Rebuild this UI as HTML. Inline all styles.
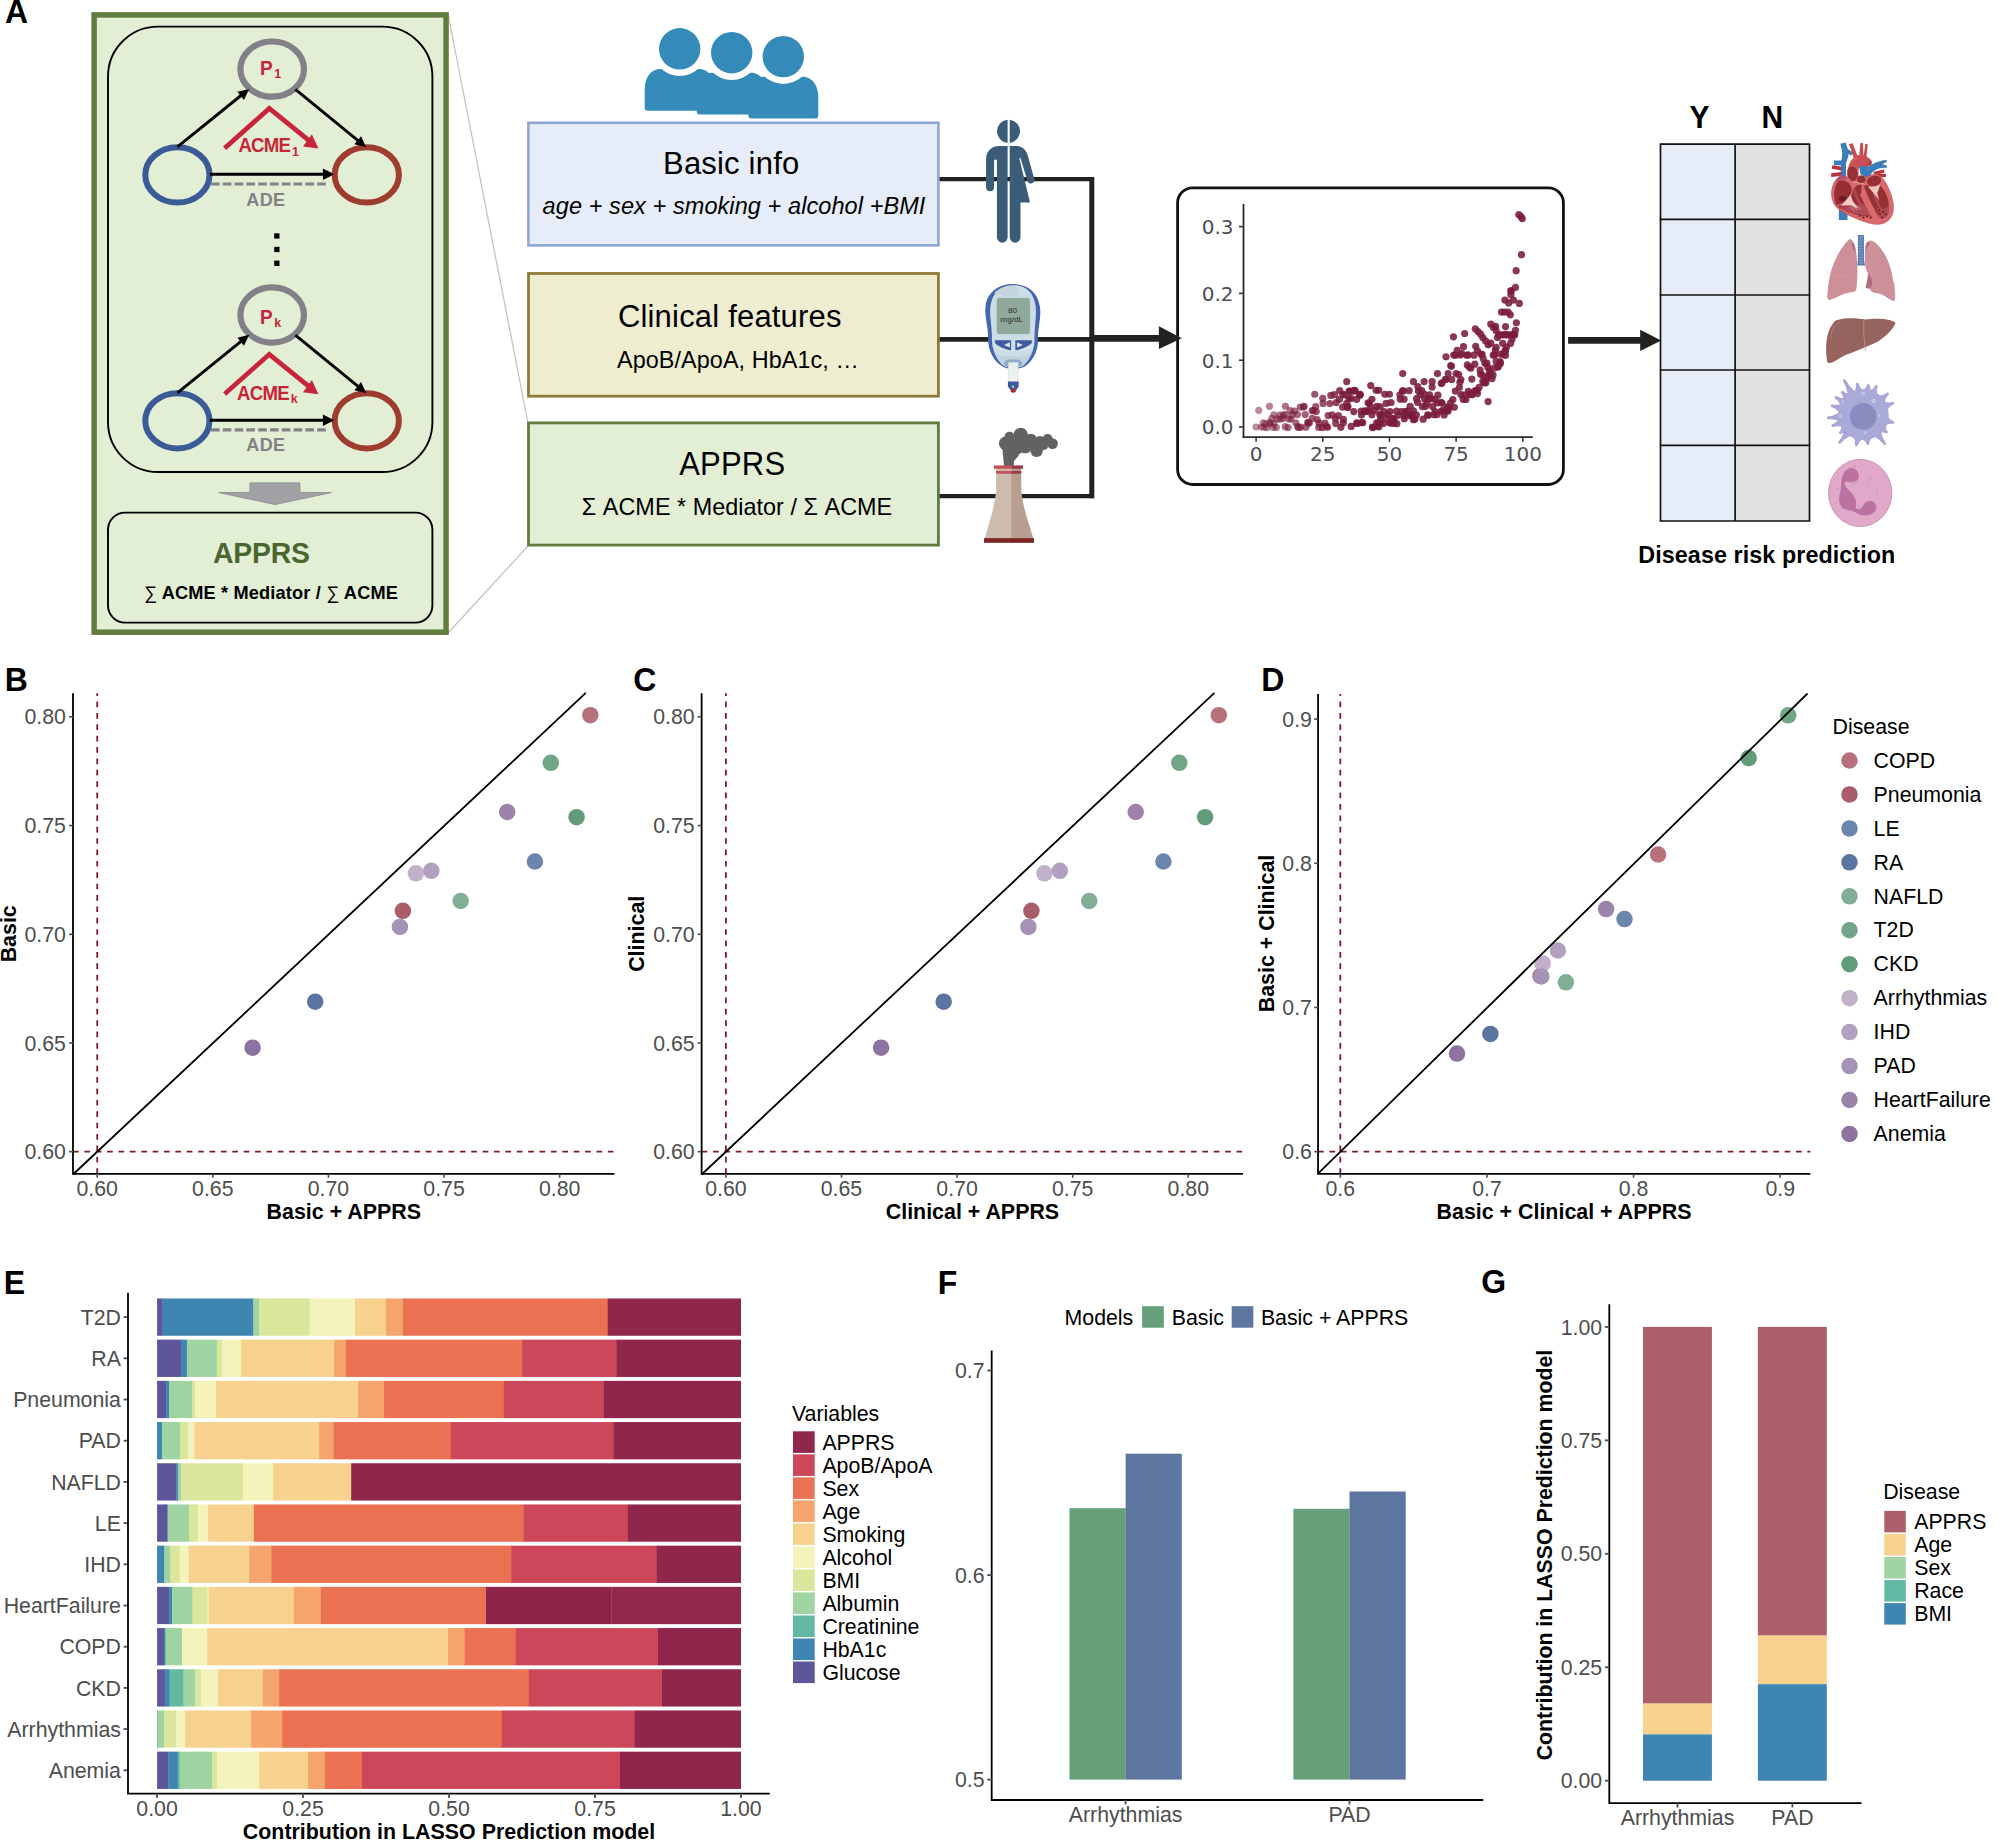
<!DOCTYPE html>
<html lang="en"><head><meta charset="utf-8"><title>APPRS disease risk prediction figure</title>
<style>
html,body{margin:0;padding:0;background:#fff}
svg{display:block;font-family:"Liberation Sans",Arial,sans-serif}
</style></head>
<body>
<svg width="1998" height="1841" viewBox="0 0 1998 1841">
<rect width="1998" height="1841" fill="#fff"/>
<line x1="448" y1="14" x2="528" y2="423" stroke="#c4c4c4" stroke-width="1.3" />
<line x1="448" y1="633" x2="528" y2="546" stroke="#c4c4c4" stroke-width="1.3" />
<rect x="94.1" y="14.9" width="351.95" height="617.3" fill="#e2efd5" stroke="#607c3e" stroke-width="5.5" />
<rect x="108" y="26.6" width="324.4" height="445.4" fill="none" stroke="#000" stroke-width="1.9" rx="50" />
<ellipse cx="272.2" cy="69.1" rx="31.8" ry="27.6" fill="none" stroke="#838088" stroke-width="6.2"/><ellipse cx="177.4" cy="174.9" rx="32.1" ry="27.6" fill="none" stroke="#3b5b96" stroke-width="6"/><ellipse cx="366.8" cy="174.9" rx="32.1" ry="27.6" fill="none" stroke="#9e3c30" stroke-width="6"/><line x1="177.4" y1="146.9" x2="241.03" y2="95.5" stroke="#000" stroke-width="2.9" /><polygon points="249.2,88.9 243.94,99.9 237.34,91.73" fill="#000"/><line x1="295.4" y1="89.3" x2="358.07" y2="140.55" stroke="#000" stroke-width="2.9" /><polygon points="366.2,147.2 354.36,144.3 361.01,136.17" fill="#000"/><line x1="209.8" y1="174.3" x2="323.4" y2="174.3" stroke="#000" stroke-width="2.9" /><polygon points="334.4,174.3 322.9,180.05 322.9,168.55" fill="#000"/><line x1="211" y1="184" x2="326" y2="184" stroke="#838088" stroke-width="3.2" stroke-dasharray="8.6 3.2"/><polyline points="224.6,148.2 269.3,108.4 308.5,140.2" fill="none" stroke="#c8243a" stroke-width="4.7" stroke-linejoin="miter"/><polygon points="318.4,148.4 303,146.4 311.9,134.2" fill="#c8243a"/><text font-size="19" x="0" y="0" transform="translate(260 74.8) scale(1 1.045)" font-weight="bold" fill="#c8243a">P</text><text font-size="12.5" x="0" y="0" transform="translate(274.2 78.2) scale(1 1.045)" font-weight="bold" fill="#c8243a">1</text><text font-size="18.6" x="0" y="0" transform="translate(238.4 152.3) scale(1 1.045)" font-weight="bold" fill="#c8243a" textLength="52.6" lengthAdjust="spacing">ACME</text><text font-size="12.5" x="0" y="0" transform="translate(292 155.7) scale(1 1.045)" font-weight="bold" fill="#c8243a">1</text><text font-size="18" x="0" y="0" transform="translate(246.2 205.5) scale(1 1.045)" font-weight="bold" fill="#838088" textLength="38.9" lengthAdjust="spacing">ADE</text>
<ellipse cx="272.2" cy="315" rx="31.8" ry="27.6" fill="none" stroke="#838088" stroke-width="6.2"/><ellipse cx="177.4" cy="420.8" rx="32.1" ry="27.6" fill="none" stroke="#3b5b96" stroke-width="6"/><ellipse cx="366.8" cy="420.8" rx="32.1" ry="27.6" fill="none" stroke="#9e3c30" stroke-width="6"/><line x1="177.4" y1="392.8" x2="241.03" y2="341.4" stroke="#000" stroke-width="2.9" /><polygon points="249.2,334.8 243.94,345.8 237.34,337.63" fill="#000"/><line x1="295.4" y1="335.2" x2="358.07" y2="386.45" stroke="#000" stroke-width="2.9" /><polygon points="366.2,393.1 354.36,390.2 361.01,382.07" fill="#000"/><line x1="209.8" y1="420.2" x2="323.4" y2="420.2" stroke="#000" stroke-width="2.9" /><polygon points="334.4,420.2 322.9,425.95 322.9,414.45" fill="#000"/><line x1="211" y1="429.9" x2="326" y2="429.9" stroke="#838088" stroke-width="3.2" stroke-dasharray="8.6 3.2"/><polyline points="224.6,394.1 269.3,354.3 308.5,386.1" fill="none" stroke="#c8243a" stroke-width="4.7" stroke-linejoin="miter"/><polygon points="318.4,394.3 303,392.3 311.9,380.1" fill="#c8243a"/><text font-size="19" x="0" y="0" transform="translate(260 323.5) scale(1 1.045)" font-weight="bold" fill="#c8243a">P</text><text font-size="12.5" x="274.2" y="326.9" font-weight="bold" fill="#c8243a">k</text><text font-size="18.6" x="0" y="0" transform="translate(237.1 400) scale(1 1.045)" font-weight="bold" fill="#c8243a" textLength="52.6" lengthAdjust="spacing">ACME</text><text font-size="12.5" x="290.7" y="403.4" font-weight="bold" fill="#c8243a">k</text><text font-size="18" x="0" y="0" transform="translate(246.2 451.4) scale(1 1.045)" font-weight="bold" fill="#838088" textLength="38.9" lengthAdjust="spacing">ADE</text>
<rect x="274.2" y="233.3" width="5.3" height="5.3" fill="#000" />
<rect x="274.2" y="246.8" width="5.3" height="5.3" fill="#000" />
<rect x="274.2" y="260.6" width="5.3" height="5.3" fill="#000" />
<polygon points="250,482.9 299.9,482.9 299.9,492.4 331.4,492.6 275,504.5 218.8,492.6 250,492.4" fill="#a2a2a6" stroke="#8c8c90" stroke-width="0.9"/>
<rect x="108" y="512.6" width="324.4" height="110" fill="none" stroke="#000" stroke-width="1.9" rx="17" />
<text font-size="28.4" x="0" y="0" transform="translate(213 563.4) scale(1 1.045)" font-weight="bold" fill="#49662f" textLength="97" lengthAdjust="spacing">APPRS</text>
<text font-size="18.2" x="144" y="599.1" font-weight="bold" textLength="253.9" lengthAdjust="spacing"><tspan font-weight="normal">∑</tspan> ACME * Mediator / <tspan font-weight="normal">∑</tspan> ACME</text>
<line x1="939" y1="179.1" x2="1094" y2="179.1" stroke="#242220" stroke-width="4.4" />
<line x1="939" y1="339.4" x2="1094" y2="339.4" stroke="#242220" stroke-width="4.6" />
<line x1="939" y1="496.1" x2="1094" y2="496.1" stroke="#242220" stroke-width="4.2" />
<line x1="1091.8" y1="176.9" x2="1091.8" y2="498.2" stroke="#242220" stroke-width="5" />
<path d="M644.7,107.7 L644.7,88.9 C644.7,77.9 650.7,69.9 658.7,68.9 L700.7,68.9 C708.7,69.9 714.7,77.9 714.7,88.9 L714.7,107.7 Q714.7,110.7 711.7,110.7 L647.7,110.7 Q644.7,110.7 644.7,107.7 Z" fill="#348ab9"/><circle cx="679.7" cy="48.8" r="27.3" fill="#fff" /><circle cx="679.7" cy="48.8" r="20.7" fill="#348ab9" /><path d="M696.7,111.6 L696.7,92.8 C696.7,81.8 702.7,73.8 710.7,72.8 L752.7,72.8 C760.7,73.8 766.7,81.8 766.7,92.8 L766.7,111.6 Q766.7,114.6 763.7,114.6 L699.7,114.6 Q696.7,114.6 696.7,111.6 Z" fill="#348ab9"/><circle cx="731.7" cy="52.7" r="27.3" fill="#fff" /><circle cx="731.7" cy="52.7" r="20.7" fill="#348ab9" /><path d="M748.3,115.5 L748.3,96.7 C748.3,85.7 754.3,77.7 762.3,76.7 L804.3,76.7 C812.3,77.7 818.3,85.7 818.3,96.7 L818.3,115.5 Q818.3,118.5 815.3,118.5 L751.3,118.5 Q748.3,118.5 748.3,115.5 Z" fill="#348ab9"/><circle cx="783.3" cy="56.6" r="27.3" fill="#fff" /><circle cx="783.3" cy="56.6" r="20.7" fill="#348ab9" />
<rect x="528.4" y="122.8" width="410" height="122.6" fill="#e6edf9" stroke="#8ea6cf" stroke-width="2.6" />
<rect x="528.5" y="273.5" width="409.9" height="122.7" fill="#efedd0" stroke="#8e7a38" stroke-width="2.8" />
<rect x="528.5" y="422.9" width="409.9" height="122.2" fill="#e2efd5" stroke="#5f7c3e" stroke-width="2.8" />
<text font-size="31" x="663" y="173.75" textLength="136.2" lengthAdjust="spacing">Basic info</text>
<text font-size="23.5" x="542.6" y="214" font-style="italic" textLength="382.8" lengthAdjust="spacing">age + sex + smoking + alcohol +BMI</text>
<text font-size="31" x="617.9" y="326.8" textLength="223.6" lengthAdjust="spacing">Clinical features</text>
<text font-size="23.4" x="617" y="368.3" textLength="241.8" lengthAdjust="spacing">ApoB/ApoA, HbA1c, …</text>
<text font-size="31" x="0" y="0" transform="translate(679.2 474.8) scale(1 1.045)" textLength="105.9" lengthAdjust="spacing">APPRS</text>
<text font-size="23.4" x="581.8" y="514.6" textLength="310.4" lengthAdjust="spacing">Σ ACME * Mediator / Σ ACME</text>
<g transform="translate(960,100) scale(0.086896)"><path d="M548,227.4 A133,133 0 0 0 548,492.6 Z M572,227.7 A133,133 0 0 1 572,492.3 Z" fill="#3a5c78"/><path d="M548,530 L440,530 C350,538 300,600 300,690 L300,1004 A46,46 0 0 0 392,1004 L392,700 A16.5,16.5 0 0 1 425,700 L425,1580 A61.5,61.5 0 0 0 548,1580 Z" fill="#3a5c78"/><path d="M572,530 L655,530 C720,535 760,575 780,640 L854,905 A41,41 0 0 1 776,932 L695,664 L683,672 L806,1180 L696,1180 L696,1580 A62,62 0 0 1 572,1580 Z" fill="#3a5c78"/></g>
<g transform="translate(960,270) scale(0.076046)"><path d="M700,185 C880,185 1020,280 1050,480 C1075,620 1020,760 1025,900 C1035,1050 960,1200 850,1270 C780,1310 620,1310 560,1270 C440,1200 365,1050 370,900 C375,760 320,620 335,480 C360,280 520,185 700,185 Z" fill="#4466ae"/><path d="M700,200 C860,200 970,290 995,480 C1010,620 975,760 980,900 C985,1040 920,1190 830,1260 C770,1295 630,1295 575,1260 C480,1190 415,1040 420,900 C425,760 385,620 400,480 C425,290 540,200 700,200 Z" fill="#cddde6"/><path d="M720,215 C800,260 790,330 700,345 C600,350 500,330 450,300 C520,230 620,205 720,215 Z" fill="#c3d4dd"/><path d="M470,1100 C560,1150 840,1150 930,1100 C900,1180 860,1230 830,1260 C770,1295 630,1295 575,1260 C540,1230 500,1180 470,1100 Z" fill="#c0d2dc"/><rect x="487" y="372" width="430" height="466" rx="30" fill="#8fa99b" stroke="#7a9488" stroke-width="6"/><path d="M460,925 L672,925 L672,1062 C580,1040 500,1000 460,960 Z" fill="#3f5ba0"/><path d="M727,925 L945,925 L945,960 C900,1000 820,1040 727,1062 Z" fill="#3f5ba0"/><polygon points="578,985 655,950 655,1020" fill="#dfe4f0"/><polygon points="750,950 750,1020 827,985" fill="#dfe4f0"/><path d="M420,985 C520,1085 880,1085 980,985" fill="none" stroke="#eef3f6" stroke-width="7"/><ellipse cx="700" cy="1228" rx="122" ry="56" fill="#8faac9"/><rect x="637" y="1215" width="128" height="252" fill="#e9f2ee" stroke="#c8d2d2" stroke-width="5"/><polygon points="630,1465 772,1465 772,1530 742,1578 662,1578 630,1530" fill="#3c5aa0"/><rect x="683" y="1522" width="26" height="26" fill="#e6df62"/><ellipse cx="700" cy="1590" rx="36" ry="24" fill="#b02a30"/><text x="692" y="562" font-size="104" text-anchor="middle" fill="#2b2b2b" textLength="118" lengthAdjust="spacingAndGlyphs">80</text><text x="680" y="680" font-size="98" text-anchor="middle" fill="#2b2b2b" textLength="300" lengthAdjust="spacingAndGlyphs">mg/dL</text></g>
<g transform="translate(960,410) scale(0.081493)"><path d="M540,690 L520,480 L700,470 L720,560 L662,625 L660,690 Z" fill="#626264"/><circle cx="608" cy="330" r="62" fill="#626264"/><circle cx="745" cy="305" r="88" fill="#626264"/><circle cx="562" cy="410" r="84" fill="#626264"/><circle cx="870" cy="362" r="72" fill="#626264"/><circle cx="980" cy="392" r="72" fill="#626264"/><circle cx="1075" cy="358" r="62" fill="#626264"/><circle cx="1135" cy="412" r="66" fill="#626264"/><circle cx="940" cy="502" r="76" fill="#626264"/><circle cx="800" cy="450" r="82" fill="#626264"/><circle cx="680" cy="452" r="104" fill="#626264"/><circle cx="1030" cy="440" r="50" fill="#626264"/><circle cx="600" cy="520" r="70" fill="#626264"/><circle cx="890" cy="440" r="56" fill="#626264"/><path d="M445,720 L650,720 L650,1572 L305,1572 C360,1380 425,1180 442,1000 Z" fill="#cdbcae"/><path d="M630,720 L750,720 L753,1000 C770,1180 840,1380 898,1572 L630,1572 Z" fill="#b79e90"/><rect x="415" y="680" width="215" height="42" fill="#c4525a"/><rect x="630" y="680" width="142" height="42" fill="#9c3c44"/><rect x="442" y="748" width="188" height="34" fill="#c4525a"/><rect x="630" y="748" width="122" height="34" fill="#9c3c44"/><rect x="295" y="1572" width="613" height="58" fill="#7e2626"/></g>
<rect x="1177.6" y="187.8" width="385.8" height="296.7" fill="#fff" stroke="#111" stroke-width="2.8" rx="15" />
<line x1="1091" y1="338.4" x2="1160" y2="338.4" stroke="#242220" stroke-width="6.9" />
<polygon points="1158.9,326.3 1181.8,338.2 1158.9,349.1" fill="#242220"/>
<g fill="#7b1c3a"><circle cx="1256.1" cy="427" r="3.6" fill-opacity="0.5"/><circle cx="1258.77" cy="410.3" r="3.6" fill-opacity="0.51"/><circle cx="1261.43" cy="427" r="3.6" fill-opacity="0.52"/><circle cx="1263.17" cy="422.79" r="3.6" fill-opacity="0.53"/><circle cx="1264.2" cy="427.18" r="3.6" fill-opacity="0.53"/><circle cx="1265.62" cy="423.54" r="3.6" fill-opacity="0.54"/><circle cx="1266.79" cy="427.62" r="3.6" fill-opacity="0.54"/><circle cx="1269.43" cy="406.29" r="3.6" fill-opacity="0.55"/><circle cx="1269.77" cy="422.39" r="3.6" fill-opacity="0.56"/><circle cx="1270.31" cy="423.49" r="3.6" fill-opacity="0.56"/><circle cx="1271.83" cy="418.35" r="3.6" fill-opacity="0.56"/><circle cx="1273.06" cy="427.28" r="3.6" fill-opacity="0.57"/><circle cx="1273.75" cy="423.25" r="3.6" fill-opacity="0.57"/><circle cx="1273.92" cy="414.87" r="3.6" fill-opacity="0.57"/><circle cx="1276.26" cy="427.39" r="3.6" fill-opacity="0.58"/><circle cx="1277.1" cy="418.92" r="3.6" fill-opacity="0.59"/><circle cx="1279.91" cy="415.22" r="3.6" fill-opacity="0.6"/><circle cx="1279.98" cy="419.25" r="3.6" fill-opacity="0.6"/><circle cx="1282.84" cy="418.48" r="3.6" fill-opacity="0.61"/><circle cx="1283.3" cy="415.32" r="3.6" fill-opacity="0.61"/><circle cx="1284.87" cy="414.33" r="3.6" fill-opacity="0.62"/><circle cx="1285.22" cy="426.66" r="3.6" fill-opacity="0.62"/><circle cx="1285.44" cy="406.29" r="3.6" fill-opacity="0.62"/><circle cx="1288.07" cy="427.62" r="3.6" fill-opacity="0.63"/><circle cx="1288.81" cy="418.89" r="3.6" fill-opacity="0.63"/><circle cx="1290.27" cy="410.71" r="3.6" fill-opacity="0.64"/><circle cx="1290.98" cy="419.04" r="3.6" fill-opacity="0.64"/><circle cx="1292.27" cy="414.71" r="3.6" fill-opacity="0.65"/><circle cx="1294.62" cy="411" r="3.6" fill-opacity="0.66"/><circle cx="1295.8" cy="422.77" r="3.6" fill-opacity="0.66"/><circle cx="1297.42" cy="414.55" r="3.6" fill-opacity="0.67"/><circle cx="1297.6" cy="426.64" r="3.6" fill-opacity="0.67"/><circle cx="1298.67" cy="427.44" r="3.6" fill-opacity="0.67"/><circle cx="1300.32" cy="407.03" r="3.6" fill-opacity="0.68"/><circle cx="1300.77" cy="427.15" r="3.6" fill-opacity="0.68"/><circle cx="1303.52" cy="407.07" r="3.6" fill-opacity="0.69"/><circle cx="1304.11" cy="406.29" r="3.6" fill-opacity="0.7"/><circle cx="1305.13" cy="414.55" r="3.6" fill-opacity="0.7"/><circle cx="1305.91" cy="427.36" r="3.6" fill-opacity="0.7"/><circle cx="1307.8" cy="422.38" r="3.6" fill-opacity="0.71"/><circle cx="1308.12" cy="423.1" r="3.6" fill-opacity="0.71"/><circle cx="1309.4" cy="422.87" r="3.6" fill-opacity="0.72"/><circle cx="1312.15" cy="410.81" r="3.6" fill-opacity="0.73"/><circle cx="1312.28" cy="418.38" r="3.6" fill-opacity="0.73"/><circle cx="1313.58" cy="410.43" r="3.6" fill-opacity="0.73"/><circle cx="1314.77" cy="394.27" r="3.6" fill-opacity="0.74"/><circle cx="1315.77" cy="406.56" r="3.6" fill-opacity="0.74"/><circle cx="1316.27" cy="411.55" r="3.6" fill-opacity="0.74"/><circle cx="1317.17" cy="419.51" r="3.6" fill-opacity="0.75"/><circle cx="1318.78" cy="427.47" r="3.6" fill-opacity="0.76"/><circle cx="1319.21" cy="423.21" r="3.6" fill-opacity="0.76"/><circle cx="1322.41" cy="427.63" r="3.6" fill-opacity="0.77"/><circle cx="1322.77" cy="398.28" r="3.6" fill-opacity="0.77"/><circle cx="1323.08" cy="403.42" r="3.6" fill-opacity="0.77"/><circle cx="1325.03" cy="423.17" r="3.6" fill-opacity="0.78"/><circle cx="1326.37" cy="426.34" r="3.6" fill-opacity="0.79"/><circle cx="1327.69" cy="427.31" r="3.6" fill-opacity="0.79"/><circle cx="1328.07" cy="415.53" r="3.6" fill-opacity="0.79"/><circle cx="1329.87" cy="403.59" r="3.6" fill-opacity="0.8"/><circle cx="1330.85" cy="395.41" r="3.6" fill-opacity="0.8"/><circle cx="1332.18" cy="414.94" r="3.6" fill-opacity="0.81"/><circle cx="1334.41" cy="394.67" r="3.6" fill-opacity="0.82"/><circle cx="1335.37" cy="418.57" r="3.6" fill-opacity="0.82"/><circle cx="1335.75" cy="423.44" r="3.6" fill-opacity="0.82"/><circle cx="1336.2" cy="402.58" r="3.6" fill-opacity="0.83"/><circle cx="1338.39" cy="415.61" r="3.6" fill-opacity="0.84"/><circle cx="1339.42" cy="399.31" r="3.6" fill-opacity="0.84"/><circle cx="1339.72" cy="390.52" r="3.6" fill-opacity="0.84"/><circle cx="1340.86" cy="427.32" r="3.6" fill-opacity="0.85"/><circle cx="1342.66" cy="407.03" r="3.6" fill-opacity="0.85"/><circle cx="1342.75" cy="394.33" r="3.6" fill-opacity="0.85"/><circle cx="1343.32" cy="422.83" r="3.6" fill-opacity="0.86"/><circle cx="1343.37" cy="419.35" r="3.6" fill-opacity="0.86"/><circle cx="1345.02" cy="394.96" r="3.6" fill-opacity="0.86"/><circle cx="1346.72" cy="403.38" r="3.6" fill-opacity="0.87"/><circle cx="1346.78" cy="381.58" r="3.6" fill-opacity="0.87"/><circle cx="1347.58" cy="407.51" r="3.6" fill-opacity="0.87"/><circle cx="1347.87" cy="406.58" r="3.6" fill-opacity="0.87"/><circle cx="1349" cy="398.54" r="3.6" fill-opacity="0.88"/><circle cx="1349.17" cy="391.06" r="3.6" fill-opacity="0.88"/><circle cx="1350.04" cy="391.37" r="3.6" fill-opacity="0.88"/><circle cx="1351.17" cy="398.51" r="3.6" fill-opacity="0.88"/><circle cx="1351.18" cy="426.46" r="3.6" fill-opacity="0.88"/><circle cx="1352.53" cy="391.13" r="3.6" fill-opacity="0.88"/><circle cx="1353.79" cy="411.62" r="3.6" fill-opacity="0.88"/><circle cx="1354.6" cy="390.43" r="3.6" fill-opacity="0.88"/><circle cx="1355.18" cy="390.89" r="3.6" fill-opacity="0.88"/><circle cx="1356.68" cy="399.28" r="3.6" fill-opacity="0.88"/><circle cx="1356.75" cy="422.88" r="3.6" fill-opacity="0.88"/><circle cx="1357.23" cy="423.48" r="3.6" fill-opacity="0.88"/><circle cx="1359.72" cy="394.99" r="3.6" fill-opacity="0.88"/><circle cx="1360.11" cy="394.27" r="3.6" fill-opacity="0.88"/><circle cx="1360.12" cy="394.89" r="3.6" fill-opacity="0.88"/><circle cx="1361.19" cy="411.07" r="3.6" fill-opacity="0.88"/><circle cx="1361.46" cy="422.59" r="3.6" fill-opacity="0.88"/><circle cx="1361.5" cy="415.06" r="3.6" fill-opacity="0.88"/><circle cx="1362.71" cy="422.69" r="3.6" fill-opacity="0.88"/><circle cx="1364.78" cy="411.27" r="3.6" fill-opacity="0.88"/><circle cx="1364.98" cy="410.94" r="3.6" fill-opacity="0.88"/><circle cx="1366.21" cy="411.49" r="3.6" fill-opacity="0.88"/><circle cx="1368.13" cy="410.95" r="3.6" fill-opacity="0.88"/><circle cx="1368.13" cy="402.87" r="3.6" fill-opacity="0.88"/><circle cx="1369.21" cy="403.03" r="3.6" fill-opacity="0.88"/><circle cx="1370.65" cy="406.92" r="3.6" fill-opacity="0.88"/><circle cx="1370.78" cy="385.58" r="3.6" fill-opacity="0.88"/><circle cx="1371.96" cy="414.71" r="3.6" fill-opacity="0.88"/><circle cx="1371.96" cy="399.27" r="3.6" fill-opacity="0.88"/><circle cx="1372.44" cy="427.08" r="3.6" fill-opacity="0.88"/><circle cx="1372.76" cy="427.57" r="3.6" fill-opacity="0.88"/><circle cx="1374.63" cy="410.51" r="3.6" fill-opacity="0.88"/><circle cx="1376.11" cy="390.26" r="3.6" fill-opacity="0.88"/><circle cx="1376.69" cy="422.78" r="3.6" fill-opacity="0.88"/><circle cx="1376.87" cy="406.43" r="3.6" fill-opacity="0.88"/><circle cx="1377.14" cy="426.38" r="3.6" fill-opacity="0.88"/><circle cx="1378.6" cy="422.97" r="3.6" fill-opacity="0.88"/><circle cx="1378.78" cy="427" r="3.6" fill-opacity="0.88"/><circle cx="1378.78" cy="390.26" r="3.6" fill-opacity="0.88"/><circle cx="1379.99" cy="423.13" r="3.6" fill-opacity="0.88"/><circle cx="1380.09" cy="414.53" r="3.6" fill-opacity="0.88"/><circle cx="1380.16" cy="415.2" r="3.6" fill-opacity="0.88"/><circle cx="1380.17" cy="406.89" r="3.6" fill-opacity="0.88"/><circle cx="1380.64" cy="419.23" r="3.6" fill-opacity="0.88"/><circle cx="1383.49" cy="423.61" r="3.6" fill-opacity="0.88"/><circle cx="1384.15" cy="411.55" r="3.6" fill-opacity="0.88"/><circle cx="1384.89" cy="394.31" r="3.6" fill-opacity="0.88"/><circle cx="1385.85" cy="418.42" r="3.6" fill-opacity="0.88"/><circle cx="1386.17" cy="403.45" r="3.6" fill-opacity="0.88"/><circle cx="1387.88" cy="414.55" r="3.6" fill-opacity="0.88"/><circle cx="1389.45" cy="394.27" r="3.6" fill-opacity="0.88"/><circle cx="1389.95" cy="423.09" r="3.6" fill-opacity="0.88"/><circle cx="1389.98" cy="411.52" r="3.6" fill-opacity="0.88"/><circle cx="1390.62" cy="422.81" r="3.6" fill-opacity="0.88"/><circle cx="1391.01" cy="402.48" r="3.6" fill-opacity="0.88"/><circle cx="1392.26" cy="418.41" r="3.6" fill-opacity="0.88"/><circle cx="1393.08" cy="423.05" r="3.6" fill-opacity="0.88"/><circle cx="1393.74" cy="419.44" r="3.6" fill-opacity="0.88"/><circle cx="1393.8" cy="418.95" r="3.6" fill-opacity="0.88"/><circle cx="1393.99" cy="423.24" r="3.6" fill-opacity="0.88"/><circle cx="1396.59" cy="411.17" r="3.6" fill-opacity="0.88"/><circle cx="1396.79" cy="423.64" r="3.6" fill-opacity="0.88"/><circle cx="1398.14" cy="415.26" r="3.6" fill-opacity="0.88"/><circle cx="1399.94" cy="394.94" r="3.6" fill-opacity="0.88"/><circle cx="1400.25" cy="399.36" r="3.6" fill-opacity="0.88"/><circle cx="1401.28" cy="411.49" r="3.6" fill-opacity="0.88"/><circle cx="1402.5" cy="390.92" r="3.6" fill-opacity="0.88"/><circle cx="1402.78" cy="373.56" r="3.6" fill-opacity="0.88"/><circle cx="1403.34" cy="390.75" r="3.6" fill-opacity="0.88"/><circle cx="1404.07" cy="399.15" r="3.6" fill-opacity="0.88"/><circle cx="1404.31" cy="418.66" r="3.6" fill-opacity="0.88"/><circle cx="1404.55" cy="415.53" r="3.6" fill-opacity="0.88"/><circle cx="1405.05" cy="411.56" r="3.6" fill-opacity="0.88"/><circle cx="1407.21" cy="411.04" r="3.6" fill-opacity="0.88"/><circle cx="1407.43" cy="415.25" r="3.6" fill-opacity="0.88"/><circle cx="1409.11" cy="390.7" r="3.6" fill-opacity="0.88"/><circle cx="1410.1" cy="406.34" r="3.6" fill-opacity="0.88"/><circle cx="1410.4" cy="415.64" r="3.6" fill-opacity="0.88"/><circle cx="1412.02" cy="414.34" r="3.6" fill-opacity="0.88"/><circle cx="1412.36" cy="415.11" r="3.6" fill-opacity="0.88"/><circle cx="1413.39" cy="410.96" r="3.6" fill-opacity="0.88"/><circle cx="1413.45" cy="381.58" r="3.6" fill-opacity="0.88"/><circle cx="1413.47" cy="419.65" r="3.6" fill-opacity="0.88"/><circle cx="1414.85" cy="419.25" r="3.6" fill-opacity="0.88"/><circle cx="1416.35" cy="414.94" r="3.6" fill-opacity="0.88"/><circle cx="1416.54" cy="398.66" r="3.6" fill-opacity="0.88"/><circle cx="1417.57" cy="402.5" r="3.6" fill-opacity="0.88"/><circle cx="1417.85" cy="386.62" r="3.6" fill-opacity="0.88"/><circle cx="1418.49" cy="391.16" r="3.6" fill-opacity="0.88"/><circle cx="1420.49" cy="394.9" r="3.6" fill-opacity="0.88"/><circle cx="1421.79" cy="390.62" r="3.6" fill-opacity="0.88"/><circle cx="1422.35" cy="406.55" r="3.6" fill-opacity="0.88"/><circle cx="1423.14" cy="419.17" r="3.6" fill-opacity="0.88"/><circle cx="1424.12" cy="381.58" r="3.6" fill-opacity="0.88"/><circle cx="1424.35" cy="394.41" r="3.6" fill-opacity="0.88"/><circle cx="1424.64" cy="399.3" r="3.6" fill-opacity="0.88"/><circle cx="1425.46" cy="406.56" r="3.6" fill-opacity="0.88"/><circle cx="1427.12" cy="402.71" r="3.6" fill-opacity="0.88"/><circle cx="1427.68" cy="414.9" r="3.6" fill-opacity="0.88"/><circle cx="1428.3" cy="398.63" r="3.6" fill-opacity="0.88"/><circle cx="1428.32" cy="415.29" r="3.6" fill-opacity="0.88"/><circle cx="1429.46" cy="394.89" r="3.6" fill-opacity="0.88"/><circle cx="1431.34" cy="398.62" r="3.6" fill-opacity="0.88"/><circle cx="1432.11" cy="387.08" r="3.6" fill-opacity="0.88"/><circle cx="1432.12" cy="381.58" r="3.6" fill-opacity="0.88"/><circle cx="1432.61" cy="406.6" r="3.6" fill-opacity="0.88"/><circle cx="1434.13" cy="414.65" r="3.6" fill-opacity="0.88"/><circle cx="1434.97" cy="411.62" r="3.6" fill-opacity="0.88"/><circle cx="1435.17" cy="399.51" r="3.6" fill-opacity="0.88"/><circle cx="1436.84" cy="414.75" r="3.6" fill-opacity="0.88"/><circle cx="1437.36" cy="403" r="3.6" fill-opacity="0.88"/><circle cx="1437.46" cy="373.56" r="3.6" fill-opacity="0.88"/><circle cx="1437.92" cy="395.22" r="3.6" fill-opacity="0.88"/><circle cx="1440.98" cy="402.33" r="3.6" fill-opacity="0.88"/><circle cx="1441.17" cy="411.37" r="3.6" fill-opacity="0.88"/><circle cx="1441.29" cy="383.56" r="3.6" fill-opacity="0.88"/><circle cx="1442.02" cy="382.8" r="3.6" fill-opacity="0.88"/><circle cx="1442.17" cy="403.34" r="3.6" fill-opacity="0.88"/><circle cx="1442.85" cy="410.36" r="3.6" fill-opacity="0.88"/><circle cx="1444.12" cy="414.98" r="3.6" fill-opacity="0.88"/><circle cx="1445.42" cy="379.54" r="3.6" fill-opacity="0.88"/><circle cx="1445.99" cy="356.86" r="3.6" fill-opacity="0.88"/><circle cx="1446" cy="379.26" r="3.6" fill-opacity="0.88"/><circle cx="1446.31" cy="410.96" r="3.6" fill-opacity="0.88"/><circle cx="1447.17" cy="407.17" r="3.6" fill-opacity="0.88"/><circle cx="1448.1" cy="411.03" r="3.6" fill-opacity="0.88"/><circle cx="1448.12" cy="373.56" r="3.6" fill-opacity="0.88"/><circle cx="1449.03" cy="407.63" r="3.6" fill-opacity="0.88"/><circle cx="1450.45" cy="403.1" r="3.6" fill-opacity="0.88"/><circle cx="1450.79" cy="365.54" r="3.6" fill-opacity="0.88"/><circle cx="1451.36" cy="366.34" r="3.6" fill-opacity="0.88"/><circle cx="1451.7" cy="379.41" r="3.6" fill-opacity="0.88"/><circle cx="1452.86" cy="399.55" r="3.6" fill-opacity="0.88"/><circle cx="1453.46" cy="336.82" r="3.6" fill-opacity="0.88"/><circle cx="1453.7" cy="355.04" r="3.6" fill-opacity="0.88"/><circle cx="1454.35" cy="407.25" r="3.6" fill-opacity="0.88"/><circle cx="1455.3" cy="391.1" r="3.6" fill-opacity="0.88"/><circle cx="1455.46" cy="355.17" r="3.6" fill-opacity="0.88"/><circle cx="1456.12" cy="373.56" r="3.6" fill-opacity="0.88"/><circle cx="1457.15" cy="350.43" r="3.6" fill-opacity="0.88"/><circle cx="1458.66" cy="374.56" r="3.6" fill-opacity="0.88"/><circle cx="1459.38" cy="387.52" r="3.6" fill-opacity="0.88"/><circle cx="1459.89" cy="382.32" r="3.6" fill-opacity="0.88"/><circle cx="1460.47" cy="354.89" r="3.6" fill-opacity="0.88"/><circle cx="1460.89" cy="379.51" r="3.6" fill-opacity="0.88"/><circle cx="1460.92" cy="394.62" r="3.6" fill-opacity="0.88"/><circle cx="1461.99" cy="353.52" r="3.6" fill-opacity="0.88"/><circle cx="1463.22" cy="399.33" r="3.6" fill-opacity="0.88"/><circle cx="1463.49" cy="346.63" r="3.6" fill-opacity="0.88"/><circle cx="1464.28" cy="395.08" r="3.6" fill-opacity="0.88"/><circle cx="1464.66" cy="333.48" r="3.6" fill-opacity="0.88"/><circle cx="1465.97" cy="399.49" r="3.6" fill-opacity="0.88"/><circle cx="1466.79" cy="355.23" r="3.6" fill-opacity="0.88"/><circle cx="1467.33" cy="364.88" r="3.6" fill-opacity="0.88"/><circle cx="1468.12" cy="354.92" r="3.6" fill-opacity="0.88"/><circle cx="1468.37" cy="391.28" r="3.6" fill-opacity="0.88"/><circle cx="1469.23" cy="367" r="3.6" fill-opacity="0.88"/><circle cx="1469.65" cy="394.42" r="3.6" fill-opacity="0.88"/><circle cx="1470.79" cy="368.22" r="3.6" fill-opacity="0.88"/><circle cx="1471.53" cy="394.31" r="3.6" fill-opacity="0.88"/><circle cx="1471.8" cy="379.12" r="3.6" fill-opacity="0.88"/><circle cx="1472.14" cy="394.76" r="3.6" fill-opacity="0.88"/><circle cx="1474.04" cy="355.16" r="3.6" fill-opacity="0.88"/><circle cx="1474.53" cy="391" r="3.6" fill-opacity="0.88"/><circle cx="1474.79" cy="364.21" r="3.6" fill-opacity="0.88"/><circle cx="1475.33" cy="328.8" r="3.6" fill-opacity="0.88"/><circle cx="1475.72" cy="346.34" r="3.6" fill-opacity="0.88"/><circle cx="1476.21" cy="390.65" r="3.6" fill-opacity="0.88"/><circle cx="1477.17" cy="390.36" r="3.6" fill-opacity="0.88"/><circle cx="1477.39" cy="350.73" r="3.6" fill-opacity="0.88"/><circle cx="1477.46" cy="393.6" r="3.6" fill-opacity="0.88"/><circle cx="1477.99" cy="331.48" r="3.6" fill-opacity="0.88"/><circle cx="1479.09" cy="387.38" r="3.6" fill-opacity="0.88"/><circle cx="1480.13" cy="370.22" r="3.6" fill-opacity="0.88"/><circle cx="1480.61" cy="374.31" r="3.6" fill-opacity="0.88"/><circle cx="1480.66" cy="334.15" r="3.6" fill-opacity="0.88"/><circle cx="1481.08" cy="354.23" r="3.6" fill-opacity="0.88"/><circle cx="1482.08" cy="354.29" r="3.6" fill-opacity="0.88"/><circle cx="1482.79" cy="381.58" r="3.6" fill-opacity="0.88"/><circle cx="1482.79" cy="337.49" r="3.6" fill-opacity="0.88"/><circle cx="1482.93" cy="375.51" r="3.6" fill-opacity="0.88"/><circle cx="1483.19" cy="358.51" r="3.6" fill-opacity="0.88"/><circle cx="1484.32" cy="382.88" r="3.6" fill-opacity="0.88"/><circle cx="1484.94" cy="363.37" r="3.6" fill-opacity="0.88"/><circle cx="1485.46" cy="380.24" r="3.6" fill-opacity="0.88"/><circle cx="1485.46" cy="340.83" r="3.6" fill-opacity="0.88"/><circle cx="1485.83" cy="382.65" r="3.6" fill-opacity="0.88"/><circle cx="1486.82" cy="363.14" r="3.6" fill-opacity="0.88"/><circle cx="1487.83" cy="367.25" r="3.6" fill-opacity="0.88"/><circle cx="1488.13" cy="401.62" r="3.6" fill-opacity="0.88"/><circle cx="1488.13" cy="376.9" r="3.6" fill-opacity="0.88"/><circle cx="1488.13" cy="344.84" r="3.6" fill-opacity="0.88"/><circle cx="1489.35" cy="370.69" r="3.6" fill-opacity="0.88"/><circle cx="1489.52" cy="374.9" r="3.6" fill-opacity="0.88"/><circle cx="1490.73" cy="343.19" r="3.6" fill-opacity="0.88"/><circle cx="1490.8" cy="373.56" r="3.6" fill-opacity="0.88"/><circle cx="1490.8" cy="324.13" r="3.6" fill-opacity="0.88"/><circle cx="1492.02" cy="378.63" r="3.6" fill-opacity="0.88"/><circle cx="1493.03" cy="375" r="3.6" fill-opacity="0.88"/><circle cx="1493.25" cy="355.18" r="3.6" fill-opacity="0.88"/><circle cx="1493.46" cy="327.47" r="3.6" fill-opacity="0.88"/><circle cx="1494" cy="368.22" r="3.6" fill-opacity="0.88"/><circle cx="1494.6" cy="355.22" r="3.6" fill-opacity="0.88"/><circle cx="1495.32" cy="350.45" r="3.6" fill-opacity="0.88"/><circle cx="1495.63" cy="326.37" r="3.6" fill-opacity="0.88"/><circle cx="1496.13" cy="361.54" r="3.6" fill-opacity="0.88"/><circle cx="1496.13" cy="330.81" r="3.6" fill-opacity="0.88"/><circle cx="1496.14" cy="347.23" r="3.6" fill-opacity="0.88"/><circle cx="1497.46" cy="337.49" r="3.6" fill-opacity="0.88"/><circle cx="1498.05" cy="366.53" r="3.6" fill-opacity="0.88"/><circle cx="1498.06" cy="366.99" r="3.6" fill-opacity="0.88"/><circle cx="1498.8" cy="334.82" r="3.6" fill-opacity="0.88"/><circle cx="1500" cy="362.88" r="3.6" fill-opacity="0.88"/><circle cx="1500.13" cy="361.54" r="3.6" fill-opacity="0.88"/><circle cx="1500.27" cy="363.46" r="3.6" fill-opacity="0.88"/><circle cx="1500.7" cy="354.22" r="3.6" fill-opacity="0.88"/><circle cx="1501.46" cy="334.82" r="3.6" fill-opacity="0.88"/><circle cx="1501.46" cy="312.1" r="3.6" fill-opacity="0.88"/><circle cx="1502.66" cy="343.3" r="3.6" fill-opacity="0.88"/><circle cx="1503.29" cy="354.27" r="3.6" fill-opacity="0.88"/><circle cx="1504.13" cy="334.82" r="3.6" fill-opacity="0.88"/><circle cx="1504.66" cy="312.1" r="3.6" fill-opacity="0.88"/><circle cx="1504.93" cy="300.08" r="3.6" fill-opacity="0.88"/><circle cx="1505.19" cy="350.34" r="3.6" fill-opacity="0.88"/><circle cx="1505.46" cy="334.24" r="3.6" fill-opacity="0.88"/><circle cx="1505.46" cy="355.52" r="3.6" fill-opacity="0.88"/><circle cx="1505.47" cy="351.14" r="3.6" fill-opacity="0.88"/><circle cx="1505.55" cy="326.58" r="3.6" fill-opacity="0.88"/><circle cx="1506.46" cy="347.06" r="3.6" fill-opacity="0.88"/><circle cx="1506.8" cy="334.82" r="3.6" fill-opacity="0.88"/><circle cx="1508.13" cy="312.1" r="3.6" fill-opacity="0.88"/><circle cx="1508.68" cy="302.94" r="3.6" fill-opacity="0.88"/><circle cx="1509.46" cy="334.82" r="3.6" fill-opacity="0.88"/><circle cx="1510.32" cy="314.87" r="3.6" fill-opacity="0.88"/><circle cx="1510.68" cy="343.33" r="3.6" fill-opacity="0.88"/><circle cx="1510.8" cy="290.73" r="3.6" fill-opacity="0.88"/><circle cx="1510.88" cy="294.86" r="3.6" fill-opacity="0.88"/><circle cx="1511.31" cy="290.91" r="3.6" fill-opacity="0.88"/><circle cx="1512.06" cy="338.99" r="3.6" fill-opacity="0.88"/><circle cx="1512.13" cy="334.82" r="3.6" fill-opacity="0.88"/><circle cx="1513.47" cy="300.08" r="3.6" fill-opacity="0.88"/><circle cx="1513.63" cy="334.25" r="3.6" fill-opacity="0.88"/><circle cx="1514.8" cy="334.82" r="3.6" fill-opacity="0.88"/><circle cx="1515.46" cy="330.28" r="3.6" fill-opacity="0.88"/><circle cx="1515.51" cy="287.33" r="3.6" fill-opacity="0.88"/><circle cx="1516.13" cy="270.69" r="3.6" fill-opacity="0.88"/><circle cx="1516.4" cy="322.79" r="3.6" fill-opacity="0.88"/><circle cx="1518.8" cy="214.58" r="3.6" fill-opacity="0.88"/><circle cx="1519.33" cy="303.42" r="3.6" fill-opacity="0.88"/><circle cx="1520.93" cy="216.58" r="3.6" fill-opacity="0.88"/><circle cx="1521.47" cy="254.66" r="3.6" fill-opacity="0.88"/><circle cx="1522.27" cy="218.58" r="3.6" fill-opacity="0.88"/></g><line x1="1243.5" y1="204" x2="1243.5" y2="438" stroke="#2a2a2e" stroke-width="1.8" /><line x1="1242.6" y1="437.1" x2="1532.8" y2="437.1" stroke="#2a2a2e" stroke-width="1.8" /><line x1="1239" y1="427" x2="1243.5" y2="427" stroke="#2a2a2e" stroke-width="1.5" /><text font-size="20" x="1233.6" y="434.3" text-anchor="end" fill="#4c4c55" font-family='"DejaVu Sans", "Liberation Sans", sans-serif'>0.0</text><line x1="1239" y1="360.2" x2="1243.5" y2="360.2" stroke="#2a2a2e" stroke-width="1.5" /><text font-size="20" x="1233.6" y="367.5" text-anchor="end" fill="#4c4c55" font-family='"DejaVu Sans", "Liberation Sans", sans-serif'>0.1</text><line x1="1239" y1="293.4" x2="1243.5" y2="293.4" stroke="#2a2a2e" stroke-width="1.5" /><text font-size="20" x="1233.6" y="300.7" text-anchor="end" fill="#4c4c55" font-family='"DejaVu Sans", "Liberation Sans", sans-serif'>0.2</text><line x1="1239" y1="226.6" x2="1243.5" y2="226.6" stroke="#2a2a2e" stroke-width="1.5" /><text font-size="20" x="1233.6" y="233.9" text-anchor="end" fill="#4c4c55" font-family='"DejaVu Sans", "Liberation Sans", sans-serif'>0.3</text><line x1="1256.1" y1="437.1" x2="1256.1" y2="441.8" stroke="#2a2a2e" stroke-width="1.5" /><text font-size="20" x="1256.1" y="461.4" text-anchor="middle" fill="#4c4c55" font-family='"DejaVu Sans", "Liberation Sans", sans-serif'>0</text><line x1="1322.77" y1="437.1" x2="1322.77" y2="441.8" stroke="#2a2a2e" stroke-width="1.5" /><text font-size="20" x="1322.77" y="461.4" text-anchor="middle" fill="#4c4c55" font-family='"DejaVu Sans", "Liberation Sans", sans-serif'>25</text><line x1="1389.45" y1="437.1" x2="1389.45" y2="441.8" stroke="#2a2a2e" stroke-width="1.5" /><text font-size="20" x="1389.45" y="461.4" text-anchor="middle" fill="#4c4c55" font-family='"DejaVu Sans", "Liberation Sans", sans-serif'>50</text><line x1="1456.12" y1="437.1" x2="1456.12" y2="441.8" stroke="#2a2a2e" stroke-width="1.5" /><text font-size="20" x="1456.12" y="461.4" text-anchor="middle" fill="#4c4c55" font-family='"DejaVu Sans", "Liberation Sans", sans-serif'>75</text><line x1="1522.8" y1="437.1" x2="1522.8" y2="441.8" stroke="#2a2a2e" stroke-width="1.5" /><text font-size="20" x="1522.8" y="461.4" text-anchor="middle" fill="#4c4c55" font-family='"DejaVu Sans", "Liberation Sans", sans-serif'>100</text>
<line x1="1568.1" y1="340.4" x2="1642" y2="340.4" stroke="#242220" stroke-width="6.8" />
<polygon points="1640.2,329.8 1661.2,340.4 1640.2,351" fill="#242220"/>
<rect x="1660.5" y="144.05" width="74.6" height="376.95" fill="#e6edf9" />
<rect x="1735.1" y="144.05" width="74.4" height="376.95" fill="#e2e2e2" />
<line x1="1659.7" y1="144.05" x2="1810.3" y2="144.05" stroke="#111" stroke-width="1.7" />
<line x1="1659.7" y1="219.4" x2="1810.3" y2="219.4" stroke="#111" stroke-width="1.7" />
<line x1="1659.7" y1="295" x2="1810.3" y2="295" stroke="#111" stroke-width="1.7" />
<line x1="1659.7" y1="370" x2="1810.3" y2="370" stroke="#111" stroke-width="1.7" />
<line x1="1659.7" y1="445.3" x2="1810.3" y2="445.3" stroke="#111" stroke-width="1.7" />
<line x1="1659.7" y1="521" x2="1810.3" y2="521" stroke="#111" stroke-width="1.7" />
<line x1="1660.5" y1="144.05" x2="1660.5" y2="521" stroke="#111" stroke-width="1.7" />
<line x1="1735.1" y1="144.05" x2="1735.1" y2="521" stroke="#111" stroke-width="1.7" />
<line x1="1809.5" y1="144.05" x2="1809.5" y2="521" stroke="#111" stroke-width="1.7" />
<text font-size="30" x="0" y="0" transform="translate(1699.6 128.2) scale(1 1.045)" text-anchor="middle" font-weight="bold">Y</text>
<text font-size="30" x="0" y="0" transform="translate(1772.4 128) scale(1 1.045)" text-anchor="middle" font-weight="bold">N</text>
<text font-size="23.3" x="1638.3" y="562.6" font-weight="bold" textLength="257" lengthAdjust="spacing">Disease risk prediction</text>
<g transform="translate(1822,136) scale(0.051046 0.05215)"><rect x="330" y="1400" width="170" height="212" fill="#3b7db8"/><path d="M360,150 L465,123 L505,250 L612,322 L572,375 L520,345 C520,420 475,470 470,540 L470,800 L370,800 L372,540 C380,450 400,380 395,300 Z" fill="#3b7db8"/><rect x="235" y="470" width="160" height="92" fill="#3b7db8"/><path d="M405,220 L425,420" stroke="#5b95c8" stroke-width="8" fill="none"/><polygon points="200,560 380,592 380,662 192,628" fill="#b8333a"/><polygon points="178,712 380,688 380,760 182,786" fill="#b8333a"/><polygon points="1000,690 1210,640 1230,700 1040,748" fill="#b8333a"/><polygon points="1080,728 1252,722 1254,786 1100,790" fill="#b8333a"/><polygon points="528,152 600,138 700,400 625,430" fill="#cc4e55"/><polygon points="748,140 802,128 815,420 728,420" fill="#cc4e55"/><polygon points="850,150 897,160 870,420 812,420" fill="#cc4e55"/><path d="M565,160 L650,350 M775,140 L770,340 M873,160 L840,340" stroke="#b8404a" stroke-width="10" fill="none"/><path d="M500,800 C478,600 560,420 700,370 C800,340 940,400 975,500 C987,562 900,592 800,592 L722,602 L700,820 Z" fill="#cc4e55"/><path d="M975,500 C987,562 900,592 800,592 C880,560 930,520 940,440 Z" fill="#b33e46"/><path d="M575,520 C610,470 650,440 690,420" stroke="#e7a0a0" stroke-width="7" fill="none"/><path d="M728,592 C760,560 850,580 900,590 C1000,520 1130,470 1260,454 L1272,490 L1180,540 L1272,565 L1266,612 C1150,600 1050,640 980,702 L900,830 L752,730 Z" fill="#3b7db8"/><path d="M850,670 L950,610" stroke="#7fb0d8" stroke-width="7" fill="none"/><path d="M250,870 C170,1000 160,1200 260,1340 C360,1450 600,1570 900,1665 C1100,1725 1320,1700 1390,1470 C1426,1300 1350,1050 1220,850 C1150,760 1060,730 980,740 C900,760 860,800 840,860 C760,820 620,800 500,790 C400,790 300,810 250,870 Z" fill="#d9696b" stroke="#b5484e" stroke-width="12"/><path d="M345,760 L480,760 L480,850 L255,868 C280,820 310,790 345,760 Z" fill="#b0506a"/><path d="M330,850 C430,820 560,870 590,1000 C602,1100 520,1240 400,1300 L280,1340 C200,1200 210,950 330,850 Z" fill="#973034" stroke="#e8918e" stroke-width="9"/><ellipse cx="405" cy="1200" rx="76" ry="50" fill="#6e1a20"/><path d="M300,1352 C420,1322 560,1240 600,1080 C620,980 700,920 780,940 C740,1100 800,1300 980,1522 C800,1562 500,1482 300,1352 Z" fill="#973034"/><path d="M330,1372 C480,1440 700,1520 940,1530 L980,1522 C900,1430 850,1350 820,1290 C700,1330 500,1360 330,1372 Z" fill="#b04a55"/><path d="M640,1020 C660,1180 740,1330 880,1480" stroke="#b04a55" stroke-width="46" fill="none"/><polygon points="372,1336 560,1128 604,1250 705,1392 560,1330" fill="#f2c9c8"/><path d="M560,1300 L700,1420 M600,1270 L760,1410 M520,1330 L640,1430" stroke="#f6dada" stroke-width="10" fill="none"/><path d="M820,960 C900,920 1050,950 1150,960 C1280,1100 1342,1300 1300,1480 C1260,1582 1160,1602 1100,1540 C1000,1350 880,1150 820,960 Z" fill="#973034"/><path d="M1080,1380 C1150,1420 1250,1400 1305,1330 C1320,1400 1312,1450 1300,1480 C1260,1582 1160,1602 1100,1540 Z" fill="#b04a55"/><path d="M1010,1100 C1060,1230 1130,1360 1190,1480" stroke="#b04a55" stroke-width="44" fill="none"/><polygon points="900,972 1140,940 1082,1100 1122,1232 1000,1082" fill="#f2c4c4"/><path d="M740,1120 L800,1080 C900,1250 1020,1420 1100,1560 L1000,1622 C920,1450 820,1280 740,1120 Z" fill="#d9696b"/><ellipse cx="740" cy="1530" rx="26" ry="20" fill="#7a2229"/><ellipse cx="810" cy="1562" rx="26" ry="20" fill="#7a2229"/><ellipse cx="885" cy="1545" rx="26" ry="20" fill="#7a2229"/><ellipse cx="955" cy="1565" rx="26" ry="20" fill="#7a2229"/><ellipse cx="1130" cy="1492" rx="26" ry="20" fill="#7a2229"/><ellipse cx="1200" cy="1452" rx="26" ry="20" fill="#7a2229"/><ellipse cx="1252" cy="1502" rx="26" ry="20" fill="#7a2229"/><ellipse cx="1180" cy="1562" rx="26" ry="20" fill="#7a2229"/><ellipse cx="1120" cy="1430" rx="26" ry="20" fill="#7a2229"/><ellipse cx="1020" cy="860" rx="150" ry="106" fill="#973034" stroke="#e8918e" stroke-width="8" transform="rotate(-15 1020 860)"/><circle cx="1042" cy="830" r="15" fill="#6e1a20"/><ellipse cx="600" cy="722" rx="110" ry="152" fill="#973034" stroke="#e8918e" stroke-width="9" transform="rotate(-8 600 722)"/><ellipse cx="770" cy="832" rx="92" ry="80" fill="#973034" stroke="#e8918e" stroke-width="8"/><path d="M610,880 C660,905 700,880 730,905 C760,925 800,900 830,925" stroke="#f2c9c8" stroke-width="12" fill="none"/></g><g transform="translate(1820,230) scale(0.04004)"><path d="M945,125 L1100,125 L1100,770 L1128,885 L925,885 L945,770 Z" fill="#5b7db2"/><rect x="965" y="165" width="115" height="30" rx="12" fill="#7b9aca"/><rect x="965" y="237" width="115" height="30" rx="12" fill="#7b9aca"/><rect x="965" y="309" width="115" height="30" rx="12" fill="#7b9aca"/><rect x="965" y="381" width="115" height="30" rx="12" fill="#7b9aca"/><rect x="965" y="453" width="115" height="30" rx="12" fill="#7b9aca"/><rect x="965" y="525" width="115" height="30" rx="12" fill="#7b9aca"/><rect x="965" y="597" width="115" height="30" rx="12" fill="#7b9aca"/><rect x="965" y="669" width="115" height="30" rx="12" fill="#7b9aca"/><rect x="965" y="741" width="115" height="30" rx="12" fill="#7b9aca"/><rect x="965" y="813" width="115" height="30" rx="12" fill="#7b9aca"/><path d="M745,225 C600,330 400,650 300,950 C230,1150 200,1400 180,1640 C175,1720 210,1762 262,1745 C400,1680 560,1600 700,1565 L850,1540 C890,1530 905,1500 910,1450 C930,1300 940,1100 930,850 C920,650 900,500 870,400 C850,320 800,235 745,225 Z" fill="#cd9098"/><path d="M790,340 C830,300 860,340 872,420 L888,570 C850,520 800,440 790,340 Z" fill="#b36b7d"/><path d="M320,1120 C450,1180 700,1170 900,1080" fill="none" stroke="#dcaab4" stroke-width="9"/><path d="M225,1330 C280,1450 360,1540 470,1630" fill="none" stroke="#bd7d8c" stroke-width="7"/><path d="M1250,265 C1190,270 1150,330 1130,450 C1115,600 1115,800 1135,920 C1150,990 1180,1050 1200,1090 C1200,1200 1160,1350 1140,1440 C1180,1470 1230,1450 1252,1470 C1270,1520 1290,1556 1330,1560 C1420,1570 1520,1590 1600,1640 C1680,1690 1760,1745 1830,1776 C1860,1770 1872,1740 1870,1700 C1870,1500 1830,1200 1760,950 C1700,740 1580,500 1400,330 C1350,290 1300,262 1250,265 Z" fill="#cd9098"/><path d="M1200,1090 C1330,1200 1330,1330 1262,1440 L1252,1470 C1230,1450 1180,1470 1140,1440 C1160,1350 1200,1200 1200,1090 Z" fill="#b36b7d"/><path d="M1165,310 C1200,290 1240,320 1250,340 C1200,400 1160,460 1135,520 C1135,430 1140,360 1165,310 Z" fill="#b36b7d"/><path d="M1770,1260 C1680,1360 1580,1460 1480,1545" fill="none" stroke="#bd7d8c" stroke-width="7"/><path d="M1840,1300 C1870,1450 1872,1600 1862,1740" fill="none" stroke="#bd8090" stroke-width="16"/></g>
<g transform="translate(1810,300) scale(0.130378)"><path d="M135,482 C113,380 120,220 200,156 C260,130 380,140 420,150 C500,140 620,140 656,175 C640,222 590,272 520,320 C450,352 380,382 300,412 C230,432 180,492 135,482 Z" fill="#96635e"/><path d="M160,300 C160,230 190,185 240,168" fill="none" stroke="#a8746d" stroke-width="10"/><path d="M415,150 C405,250 420,320 425,392" fill="none" stroke="#c89a70" stroke-width="6"/><path d="M219.97,852.58 Q197.11,826.83 163.08,816.73 Q157.31,807.8 166.92,803.27 Q201.16,812.67 234.17,802.89 L235.13,800.71 Q220.72,769.84 191.28,750.93 Q188.22,740.75 198.72,739.07 Q228.55,757.37 262.62,756.94 L260.68,759.3 Q258.61,730.17 239.91,709.8 Q239.51,699.18 250.09,700.2 Q269.32,720.06 298.29,723.85 L294.67,726.5 Q285.95,672.98 255.89,618.41 Q258.1,608.02 268.11,611.59 Q298.81,665.8 339.79,701.3 L347.35,698.51 Q360.66,670.84 355.14,641.37 Q360.43,632.16 368.86,638.63 Q375.1,667.95 398.03,688.37 L415.52,688.08 Q436.89,672.06 441.09,648.86 Q449.3,642.11 454.91,651.14 Q451.42,674.46 466.51,696.5 L464.58,695.92 Q491.26,681.67 503.62,655.13 Q513.29,650.71 516.38,660.87 Q504.69,687.72 511.7,717.15 L537.26,736.23 Q569.06,733.22 593.43,712.7 Q604.06,712.78 602.57,723.3 Q578.68,744.37 570.99,775.38 L577.76,786.61 Q608.26,794.51 637.45,783.48 Q647.45,787.08 642.55,796.52 Q613.63,808.23 596.59,834.74 L600.62,903.02 Q616.61,926.29 641.77,933.23 Q647.74,942.02 638.23,946.77 Q612.89,940.54 587.57,953.03 L577.71,973.48 Q579.13,997.64 594.2,1009.4 Q596.4,1019.8 585.8,1020.6 Q570.29,1009.42 546.7,1014.82 L543.35,1018.14 Q552.07,1061.28 580.64,1100.86 Q579.73,1111.45 569.36,1109.14 Q540.19,1069.99 501.67,1048.7 L464.78,1064.02 Q449.11,1083.51 451.92,1103.92 Q446.23,1112.9 438.08,1106.08 Q434.56,1085.78 413.71,1071.96 L391.81,1071.14 Q368.57,1089.31 361.82,1116.6 Q353.18,1122.79 348.18,1113.4 Q354.24,1085.96 341.48,1059.36 L305.5,1041.07 Q264.08,1060.87 230.31,1099.57 Q219.78,1101.06 219.69,1090.43 Q252.92,1051.27 266.32,1007.36 L275.69,1017.2 Q250.92,1013.05 234.3,1025.53 Q223.69,1024.91 225.7,1014.47 Q241.88,1001.43 243.96,976.41 L239.29,967.87 Q205.82,960.12 172.34,971.6 Q162.46,967.67 167.66,958.4 Q200.91,946.24 222.04,919.16 L222.87,922.96 Q182.71,908.06 135.63,911.97 Q127.03,905.72 134.37,898.03 Q181.37,893.39 218.19,871.49 Z" fill="#a9aad8" stroke="#8f90c9" stroke-width="5" stroke-linejoin="round"/><circle cx="410" cy="880" r="190" fill="#a9aad8"/><circle cx="408" cy="893" r="101" fill="#8a8cc0" stroke="#8183b8" stroke-width="3"/><circle cx="410" cy="718" r="14" fill="#c3c5e6"/><circle cx="487" cy="775" r="17" fill="#c3c5e6"/><circle cx="232" cy="892" r="14" fill="#c3c5e6"/><circle cx="533" cy="888" r="12" fill="#c3c5e6"/><circle cx="422" cy="1018" r="12" fill="#c3c5e6"/><circle cx="250" cy="780" r="9" fill="#c3c5e6"/><ellipse cx="385" cy="1480" rx="243" ry="258" fill="#e1a9c9" stroke="#b9799a" stroke-width="5"/><path d="M300,1290 C350,1280 382,1320 372,1370 C362,1402 300,1402 270,1392 C250,1440 330,1470 350,1530 C360,1570 340,1592 360,1602 C390,1612 400,1592 410,1572 C430,1530 490,1530 506,1572 C522,1622 470,1652 420,1652 C370,1652 340,1612 290,1612 C230,1602 210,1540 230,1480 C250,1420 220,1330 300,1290 Z" fill="#bb72a1"/><circle cx="395" cy="1633" r="5" fill="#c985b0"/><circle cx="280" cy="1598" r="5" fill="#c985b0"/><circle cx="330" cy="1420" r="5" fill="#c985b0"/><circle cx="568" cy="1496" r="5" fill="#c985b0"/><circle cx="379" cy="1587" r="5" fill="#c985b0"/><circle cx="518" cy="1476" r="5" fill="#c985b0"/><circle cx="454" cy="1357" r="5" fill="#c985b0"/><circle cx="327" cy="1406" r="5" fill="#c985b0"/><circle cx="260" cy="1329" r="5" fill="#c985b0"/><circle cx="215" cy="1453" r="5" fill="#c985b0"/><circle cx="348" cy="1406" r="5" fill="#c985b0"/><circle cx="392" cy="1319" r="5" fill="#c985b0"/><circle cx="361" cy="1554" r="5" fill="#c985b0"/><circle cx="474" cy="1373" r="5" fill="#c985b0"/><circle cx="347" cy="1281" r="5" fill="#c985b0"/><circle cx="341" cy="1276" r="5" fill="#c985b0"/><circle cx="243" cy="1597" r="5" fill="#c985b0"/><circle cx="198" cy="1551" r="5" fill="#c985b0"/><circle cx="444" cy="1419" r="5" fill="#c985b0"/><circle cx="449" cy="1559" r="5" fill="#c985b0"/><circle cx="511" cy="1450" r="5" fill="#c985b0"/><circle cx="307" cy="1395" r="5" fill="#c985b0"/><circle cx="262" cy="1474" r="5" fill="#c985b0"/><circle cx="296" cy="1608" r="5" fill="#c985b0"/><circle cx="217" cy="1375" r="5" fill="#c985b0"/><circle cx="303" cy="1288" r="5" fill="#c985b0"/></g>
<circle cx="590.3" cy="715.2" r="8.25" fill="#b6717a" />
<circle cx="402.9" cy="910.8" r="8.25" fill="#aa5d68" />
<circle cx="534.9" cy="861.5" r="8.25" fill="#6b85ad" />
<circle cx="315.2" cy="1001.7" r="8.25" fill="#5c74a1" />
<circle cx="460.7" cy="900.9" r="8.25" fill="#80af95" />
<circle cx="550.8" cy="762.8" r="8.25" fill="#70a685" />
<circle cx="576.6" cy="817.2" r="8.25" fill="#609c77" />
<circle cx="415.9" cy="873.3" r="8.25" fill="#c2b0cb" />
<circle cx="431.3" cy="870.8" r="8.25" fill="#b3a0c0" />
<circle cx="399.9" cy="926.9" r="8.25" fill="#a592b6" />
<circle cx="507.2" cy="812" r="8.25" fill="#9b83aa" />
<circle cx="252.6" cy="1047.7" r="8.25" fill="#8e72a0" />
<line x1="97.24" y1="1173.85" x2="97.24" y2="693.2" stroke="#7e1c24" stroke-width="1.8" stroke-dasharray="5.69 5.69"/>
<line x1="72.97" y1="1151.7" x2="614.4" y2="1151.7" stroke="#7e1c24" stroke-width="1.8" stroke-dasharray="5.69 5.69"/>
<line x1="72.97" y1="1174.53" x2="585.8" y2="692.9" stroke="#000" stroke-width="1.8" />
<polyline points="72.97,693.2 72.97,1173.85 614.4,1173.85" fill="none" stroke="#000" stroke-width="1.8"/>
<line x1="97.24" y1="1173.85" x2="97.24" y2="1177.75" stroke="#4d4d4d" stroke-width="1.6" />
<text font-size="21.3" x="0" y="0" transform="translate(97.24 1195.9) scale(1 1.045)" text-anchor="middle" fill="#4d4d4d">0.60</text>
<line x1="69.07" y1="1151.7" x2="72.97" y2="1151.7" stroke="#4d4d4d" stroke-width="1.6" />
<text font-size="21.3" x="0" y="0" transform="translate(65.97 1159.3) scale(1 1.045)" text-anchor="end" fill="#4d4d4d">0.60</text>
<line x1="212.84" y1="1173.85" x2="212.84" y2="1177.75" stroke="#4d4d4d" stroke-width="1.6" />
<text font-size="21.3" x="0" y="0" transform="translate(212.84 1195.9) scale(1 1.045)" text-anchor="middle" fill="#4d4d4d">0.65</text>
<line x1="69.07" y1="1042.98" x2="72.97" y2="1042.98" stroke="#4d4d4d" stroke-width="1.6" />
<text font-size="21.3" x="0" y="0" transform="translate(65.97 1050.58) scale(1 1.045)" text-anchor="end" fill="#4d4d4d">0.65</text>
<line x1="328.44" y1="1173.85" x2="328.44" y2="1177.75" stroke="#4d4d4d" stroke-width="1.6" />
<text font-size="21.3" x="0" y="0" transform="translate(328.44 1195.9) scale(1 1.045)" text-anchor="middle" fill="#4d4d4d">0.70</text>
<line x1="69.07" y1="934.26" x2="72.97" y2="934.26" stroke="#4d4d4d" stroke-width="1.6" />
<text font-size="21.3" x="0" y="0" transform="translate(65.97 941.86) scale(1 1.045)" text-anchor="end" fill="#4d4d4d">0.70</text>
<line x1="444.04" y1="1173.85" x2="444.04" y2="1177.75" stroke="#4d4d4d" stroke-width="1.6" />
<text font-size="21.3" x="0" y="0" transform="translate(444.04 1195.9) scale(1 1.045)" text-anchor="middle" fill="#4d4d4d">0.75</text>
<line x1="69.07" y1="825.54" x2="72.97" y2="825.54" stroke="#4d4d4d" stroke-width="1.6" />
<text font-size="21.3" x="0" y="0" transform="translate(65.97 833.14) scale(1 1.045)" text-anchor="end" fill="#4d4d4d">0.75</text>
<line x1="559.64" y1="1173.85" x2="559.64" y2="1177.75" stroke="#4d4d4d" stroke-width="1.6" />
<text font-size="21.3" x="0" y="0" transform="translate(559.64 1195.9) scale(1 1.045)" text-anchor="middle" fill="#4d4d4d">0.80</text>
<line x1="69.07" y1="716.82" x2="72.97" y2="716.82" stroke="#4d4d4d" stroke-width="1.6" />
<text font-size="21.3" x="0" y="0" transform="translate(65.97 724.42) scale(1 1.045)" text-anchor="end" fill="#4d4d4d">0.80</text>
<text font-size="21.4" x="343.8" y="1218.8" text-anchor="middle" font-weight="bold">Basic + APPRS</text>
<text font-size="21.4" x="15.8" y="933.8" transform="rotate(-90 15.8 933.8)" text-anchor="middle" font-weight="bold">Basic</text>
<text font-size="32" x="0" y="0" transform="translate(4.7 690.8) scale(1 1.045)" font-weight="bold">B</text>
<circle cx="1218.8" cy="715.2" r="8.25" fill="#b6717a" />
<circle cx="1031.4" cy="910.8" r="8.25" fill="#aa5d68" />
<circle cx="1163.4" cy="861.5" r="8.25" fill="#6b85ad" />
<circle cx="943.7" cy="1001.7" r="8.25" fill="#5c74a1" />
<circle cx="1089.2" cy="900.9" r="8.25" fill="#80af95" />
<circle cx="1179.3" cy="762.8" r="8.25" fill="#70a685" />
<circle cx="1205.1" cy="817.2" r="8.25" fill="#609c77" />
<circle cx="1044.4" cy="873.3" r="8.25" fill="#c2b0cb" />
<circle cx="1059.8" cy="870.8" r="8.25" fill="#b3a0c0" />
<circle cx="1028.4" cy="926.9" r="8.25" fill="#a592b6" />
<circle cx="1135.7" cy="812" r="8.25" fill="#9b83aa" />
<circle cx="881.1" cy="1047.7" r="8.25" fill="#8e72a0" />
<line x1="725.89" y1="1173.85" x2="725.89" y2="693.2" stroke="#7e1c24" stroke-width="1.8" stroke-dasharray="5.69 5.69"/>
<line x1="701.62" y1="1151.7" x2="1243.05" y2="1151.7" stroke="#7e1c24" stroke-width="1.8" stroke-dasharray="5.69 5.69"/>
<line x1="701.62" y1="1174.53" x2="1214.45" y2="692.9" stroke="#000" stroke-width="1.8" />
<polyline points="701.62,693.2 701.62,1173.85 1243.05,1173.85" fill="none" stroke="#000" stroke-width="1.8"/>
<line x1="725.89" y1="1173.85" x2="725.89" y2="1177.75" stroke="#4d4d4d" stroke-width="1.6" />
<text font-size="21.3" x="0" y="0" transform="translate(725.89 1195.9) scale(1 1.045)" text-anchor="middle" fill="#4d4d4d">0.60</text>
<line x1="697.72" y1="1151.7" x2="701.62" y2="1151.7" stroke="#4d4d4d" stroke-width="1.6" />
<text font-size="21.3" x="0" y="0" transform="translate(694.62 1159.3) scale(1 1.045)" text-anchor="end" fill="#4d4d4d">0.60</text>
<line x1="841.49" y1="1173.85" x2="841.49" y2="1177.75" stroke="#4d4d4d" stroke-width="1.6" />
<text font-size="21.3" x="0" y="0" transform="translate(841.49 1195.9) scale(1 1.045)" text-anchor="middle" fill="#4d4d4d">0.65</text>
<line x1="697.72" y1="1042.98" x2="701.62" y2="1042.98" stroke="#4d4d4d" stroke-width="1.6" />
<text font-size="21.3" x="0" y="0" transform="translate(694.62 1050.58) scale(1 1.045)" text-anchor="end" fill="#4d4d4d">0.65</text>
<line x1="957.09" y1="1173.85" x2="957.09" y2="1177.75" stroke="#4d4d4d" stroke-width="1.6" />
<text font-size="21.3" x="0" y="0" transform="translate(957.09 1195.9) scale(1 1.045)" text-anchor="middle" fill="#4d4d4d">0.70</text>
<line x1="697.72" y1="934.26" x2="701.62" y2="934.26" stroke="#4d4d4d" stroke-width="1.6" />
<text font-size="21.3" x="0" y="0" transform="translate(694.62 941.86) scale(1 1.045)" text-anchor="end" fill="#4d4d4d">0.70</text>
<line x1="1072.69" y1="1173.85" x2="1072.69" y2="1177.75" stroke="#4d4d4d" stroke-width="1.6" />
<text font-size="21.3" x="0" y="0" transform="translate(1072.69 1195.9) scale(1 1.045)" text-anchor="middle" fill="#4d4d4d">0.75</text>
<line x1="697.72" y1="825.54" x2="701.62" y2="825.54" stroke="#4d4d4d" stroke-width="1.6" />
<text font-size="21.3" x="0" y="0" transform="translate(694.62 833.14) scale(1 1.045)" text-anchor="end" fill="#4d4d4d">0.75</text>
<line x1="1188.29" y1="1173.85" x2="1188.29" y2="1177.75" stroke="#4d4d4d" stroke-width="1.6" />
<text font-size="21.3" x="0" y="0" transform="translate(1188.29 1195.9) scale(1 1.045)" text-anchor="middle" fill="#4d4d4d">0.80</text>
<line x1="697.72" y1="716.82" x2="701.62" y2="716.82" stroke="#4d4d4d" stroke-width="1.6" />
<text font-size="21.3" x="0" y="0" transform="translate(694.62 724.42) scale(1 1.045)" text-anchor="end" fill="#4d4d4d">0.80</text>
<text font-size="21.4" x="972.45" y="1218.8" text-anchor="middle" font-weight="bold">Clinical + APPRS</text>
<text font-size="21.4" x="644.45" y="933.8" transform="rotate(-90 644.45 933.8)" text-anchor="middle" font-weight="bold">Clinical</text>
<text font-size="32" x="0" y="0" transform="translate(633.2 690.8) scale(1 1.045)" font-weight="bold">C</text>
<circle cx="1540.5" cy="976" r="8.25" fill="#aa5d68" />
<circle cx="1658.1" cy="854.5" r="8.25" fill="#b6717a" />
<circle cx="1624.5" cy="919.1" r="8.25" fill="#6b85ad" />
<circle cx="1490.4" cy="1033.9" r="8.25" fill="#5c74a1" />
<circle cx="1565.9" cy="982.3" r="8.25" fill="#80af95" />
<circle cx="1788.2" cy="715.3" r="8.25" fill="#70a685" />
<circle cx="1748.7" cy="758.1" r="8.25" fill="#609c77" />
<circle cx="1542.7" cy="963.4" r="8.25" fill="#c2b0cb" />
<circle cx="1557.9" cy="950.5" r="8.25" fill="#b3a0c0" />
<circle cx="1541.3" cy="976.4" r="8.25" fill="#a592b6" />
<circle cx="1606.1" cy="909.1" r="8.25" fill="#9b83aa" />
<circle cx="1457" cy="1053.6" r="8.25" fill="#8e72a0" />
<line x1="1340.3" y1="1173.85" x2="1340.3" y2="694" stroke="#7e1c24" stroke-width="1.8" stroke-dasharray="5.69 5.69"/>
<line x1="1318.05" y1="1151.7" x2="1810.4" y2="1151.7" stroke="#7e1c24" stroke-width="1.8" stroke-dasharray="5.69 5.69"/>
<line x1="1318.05" y1="1173.6" x2="1807.5" y2="693.5" stroke="#000" stroke-width="1.8" />
<polyline points="1318.05,694 1318.05,1173.85 1810.4,1173.85" fill="none" stroke="#000" stroke-width="1.8"/>
<line x1="1340.3" y1="1173.85" x2="1340.3" y2="1177.75" stroke="#4d4d4d" stroke-width="1.6" />
<text font-size="21.3" x="0" y="0" transform="translate(1340.3 1195.9) scale(1 1.045)" text-anchor="middle" fill="#4d4d4d">0.6</text>
<line x1="1314.15" y1="1151.7" x2="1318.05" y2="1151.7" stroke="#4d4d4d" stroke-width="1.6" />
<text font-size="21.3" x="0" y="0" transform="translate(1311.95 1159.3) scale(1 1.045)" text-anchor="end" fill="#4d4d4d">0.6</text>
<line x1="1486.93" y1="1173.85" x2="1486.93" y2="1177.75" stroke="#4d4d4d" stroke-width="1.6" />
<text font-size="21.3" x="0" y="0" transform="translate(1486.93 1195.9) scale(1 1.045)" text-anchor="middle" fill="#4d4d4d">0.7</text>
<line x1="1314.15" y1="1007.5" x2="1318.05" y2="1007.5" stroke="#4d4d4d" stroke-width="1.6" />
<text font-size="21.3" x="0" y="0" transform="translate(1311.95 1015.1) scale(1 1.045)" text-anchor="end" fill="#4d4d4d">0.7</text>
<line x1="1633.56" y1="1173.85" x2="1633.56" y2="1177.75" stroke="#4d4d4d" stroke-width="1.6" />
<text font-size="21.3" x="0" y="0" transform="translate(1633.56 1195.9) scale(1 1.045)" text-anchor="middle" fill="#4d4d4d">0.8</text>
<line x1="1314.15" y1="863.3" x2="1318.05" y2="863.3" stroke="#4d4d4d" stroke-width="1.6" />
<text font-size="21.3" x="0" y="0" transform="translate(1311.95 870.9) scale(1 1.045)" text-anchor="end" fill="#4d4d4d">0.8</text>
<line x1="1780.19" y1="1173.85" x2="1780.19" y2="1177.75" stroke="#4d4d4d" stroke-width="1.6" />
<text font-size="21.3" x="0" y="0" transform="translate(1780.19 1195.9) scale(1 1.045)" text-anchor="middle" fill="#4d4d4d">0.9</text>
<line x1="1314.15" y1="719.1" x2="1318.05" y2="719.1" stroke="#4d4d4d" stroke-width="1.6" />
<text font-size="21.3" x="0" y="0" transform="translate(1311.95 726.7) scale(1 1.045)" text-anchor="end" fill="#4d4d4d">0.9</text>
<text font-size="21.4" x="1564" y="1219" text-anchor="middle" font-weight="bold">Basic + Clinical + APPRS</text>
<text font-size="21.4" x="1274.2" y="933.5" transform="rotate(-90 1274.2 933.5)" text-anchor="middle" font-weight="bold">Basic + Clinical</text>
<text font-size="32" x="0" y="0" transform="translate(1261.2 690.8) scale(1 1.045)" font-weight="bold">D</text>
<text font-size="21.3" x="1832.6" y="734.2">Disease</text>
<circle cx="1849.5" cy="760.5" r="8.25" fill="#b6717a" />
<text font-size="21.3" x="0" y="0" transform="translate(1873.6 767.7) scale(1 1.045)">COPD</text>
<circle cx="1849.5" cy="794.45" r="8.25" fill="#aa5d68" />
<text font-size="21.3" x="1873.6" y="801.65">Pneumonia</text>
<circle cx="1849.5" cy="828.4" r="8.25" fill="#6b85ad" />
<text font-size="21.3" x="0" y="0" transform="translate(1873.6 835.6) scale(1 1.045)">LE</text>
<circle cx="1849.5" cy="862.35" r="8.25" fill="#5c74a1" />
<text font-size="21.3" x="0" y="0" transform="translate(1873.6 869.55) scale(1 1.045)">RA</text>
<circle cx="1849.5" cy="896.3" r="8.25" fill="#80af95" />
<text font-size="21.3" x="0" y="0" transform="translate(1873.6 903.5) scale(1 1.045)">NAFLD</text>
<circle cx="1849.5" cy="930.25" r="8.25" fill="#70a685" />
<text font-size="21.3" x="0" y="0" transform="translate(1873.6 937.45) scale(1 1.045)">T2D</text>
<circle cx="1849.5" cy="964.2" r="8.25" fill="#609c77" />
<text font-size="21.3" x="0" y="0" transform="translate(1873.6 971.4) scale(1 1.045)">CKD</text>
<circle cx="1849.5" cy="998.15" r="8.25" fill="#c2b0cb" />
<text font-size="21.3" x="1873.6" y="1005.35">Arrhythmias</text>
<circle cx="1849.5" cy="1032.1" r="8.25" fill="#b3a0c0" />
<text font-size="21.3" x="0" y="0" transform="translate(1873.6 1039.3) scale(1 1.045)">IHD</text>
<circle cx="1849.5" cy="1066.05" r="8.25" fill="#a592b6" />
<text font-size="21.3" x="0" y="0" transform="translate(1873.6 1073.25) scale(1 1.045)">PAD</text>
<circle cx="1849.5" cy="1100" r="8.25" fill="#9b83aa" />
<text font-size="21.3" x="1873.6" y="1107.2">HeartFailure</text>
<circle cx="1849.5" cy="1133.95" r="8.25" fill="#8e72a0" />
<text font-size="21.3" x="1873.6" y="1141.15">Anemia</text>
<rect x="157.06" y="1298.45" width="5.74" height="37.3" fill="#5e569b" />
<rect x="162.5" y="1298.45" width="91.1" height="37.3" fill="#3f85b2" />
<rect x="253.3" y="1298.45" width="6" height="37.3" fill="#9fd3a2" />
<rect x="259" y="1298.45" width="50.9" height="37.3" fill="#d9e69b" />
<rect x="309.6" y="1298.45" width="45.7" height="37.3" fill="#f5f3bc" />
<rect x="355" y="1298.45" width="31.3" height="37.3" fill="#f6d28e" />
<rect x="386" y="1298.45" width="17.3" height="37.3" fill="#f5a56b" />
<rect x="403" y="1298.45" width="205" height="37.3" fill="#ea7151" />
<rect x="607.7" y="1298.45" width="133.3" height="37.3" fill="#90264c" />
<line x1="123.6" y1="1317.1" x2="128" y2="1317.1" stroke="#4d4d4d" stroke-width="1.8" />
<text font-size="21.3" x="0" y="0" transform="translate(120.9 1324.8) scale(1 1.045)" text-anchor="end" fill="#4d4d4d">T2D</text>
<rect x="157.06" y="1339.65" width="24.74" height="37.3" fill="#5e569b" />
<rect x="181.5" y="1339.65" width="5.7" height="37.3" fill="#3f85b2" />
<rect x="186.9" y="1339.65" width="30.2" height="37.3" fill="#9fd3a2" />
<rect x="216.8" y="1339.65" width="5.6" height="37.3" fill="#d9e69b" />
<rect x="222.1" y="1339.65" width="19.3" height="37.3" fill="#f5f3bc" />
<rect x="241.1" y="1339.65" width="93.3" height="37.3" fill="#f6d28e" />
<rect x="334.1" y="1339.65" width="12.1" height="37.3" fill="#f5a56b" />
<rect x="345.9" y="1339.65" width="176.5" height="37.3" fill="#ea7151" />
<rect x="522.1" y="1339.65" width="94.9" height="37.3" fill="#cb4759" />
<rect x="616.7" y="1339.65" width="124.3" height="37.3" fill="#90264c" />
<line x1="123.6" y1="1358.3" x2="128" y2="1358.3" stroke="#4d4d4d" stroke-width="1.8" />
<text font-size="21.3" x="0" y="0" transform="translate(120.9 1366) scale(1 1.045)" text-anchor="end" fill="#4d4d4d">RA</text>
<rect x="157.06" y="1380.85" width="9.44" height="37.3" fill="#5e569b" />
<rect x="166.2" y="1380.85" width="3.2" height="37.3" fill="#3f85b2" />
<rect x="169.1" y="1380.85" width="23.5" height="37.3" fill="#9fd3a2" />
<rect x="192.3" y="1380.85" width="3" height="37.3" fill="#d9e69b" />
<rect x="195" y="1380.85" width="21.4" height="37.3" fill="#f5f3bc" />
<rect x="216.1" y="1380.85" width="142.3" height="37.3" fill="#f6d28e" />
<rect x="358.1" y="1380.85" width="26.1" height="37.3" fill="#f5a56b" />
<rect x="383.9" y="1380.85" width="120.2" height="37.3" fill="#ea7151" />
<rect x="503.8" y="1380.85" width="100.4" height="37.3" fill="#cb4759" />
<rect x="603.9" y="1380.85" width="137.1" height="37.3" fill="#90264c" />
<line x1="123.6" y1="1399.5" x2="128" y2="1399.5" stroke="#4d4d4d" stroke-width="1.8" />
<text font-size="21.3" x="120.9" y="1407.2" text-anchor="end" fill="#4d4d4d">Pneumonia</text>
<rect x="157.06" y="1422.05" width="5.14" height="37.3" fill="#3f85b2" />
<rect x="161.9" y="1422.05" width="18.3" height="37.3" fill="#9fd3a2" />
<rect x="179.9" y="1422.05" width="8.4" height="37.3" fill="#d9e69b" />
<rect x="188" y="1422.05" width="6.6" height="37.3" fill="#f5f3bc" />
<rect x="194.3" y="1422.05" width="125.1" height="37.3" fill="#f6d28e" />
<rect x="319.1" y="1422.05" width="14.7" height="37.3" fill="#f5a56b" />
<rect x="333.5" y="1422.05" width="117.6" height="37.3" fill="#ea7151" />
<rect x="450.8" y="1422.05" width="163.2" height="37.3" fill="#cb4759" />
<rect x="613.7" y="1422.05" width="127.3" height="37.3" fill="#90264c" />
<line x1="123.6" y1="1440.7" x2="128" y2="1440.7" stroke="#4d4d4d" stroke-width="1.8" />
<text font-size="21.3" x="0" y="0" transform="translate(120.9 1448.4) scale(1 1.045)" text-anchor="end" fill="#4d4d4d">PAD</text>
<rect x="157.06" y="1463.25" width="19.54" height="37.3" fill="#5e569b" />
<rect x="176.3" y="1463.25" width="1.9" height="37.3" fill="#3f85b2" />
<rect x="177.9" y="1463.25" width="3.6" height="37.3" fill="#9fd3a2" />
<rect x="181.2" y="1463.25" width="61.9" height="37.3" fill="#d9e69b" />
<rect x="242.8" y="1463.25" width="30.6" height="37.3" fill="#f5f3bc" />
<rect x="273.1" y="1463.25" width="78.4" height="37.3" fill="#f6d28e" />
<rect x="351.2" y="1463.25" width="389.8" height="37.3" fill="#90264c" />
<line x1="123.6" y1="1481.9" x2="128" y2="1481.9" stroke="#4d4d4d" stroke-width="1.8" />
<text font-size="21.3" x="0" y="0" transform="translate(120.9 1489.6) scale(1 1.045)" text-anchor="end" fill="#4d4d4d">NAFLD</text>
<rect x="157.06" y="1504.45" width="10.84" height="37.3" fill="#5e569b" />
<rect x="167.6" y="1504.45" width="21.7" height="37.3" fill="#9fd3a2" />
<rect x="189" y="1504.45" width="9.3" height="37.3" fill="#d9e69b" />
<rect x="198" y="1504.45" width="10.4" height="37.3" fill="#f5f3bc" />
<rect x="208.1" y="1504.45" width="46.1" height="37.3" fill="#f6d28e" />
<rect x="253.9" y="1504.45" width="270" height="37.3" fill="#ea7151" />
<rect x="523.6" y="1504.45" width="104.6" height="37.3" fill="#cb4759" />
<rect x="627.9" y="1504.45" width="113.1" height="37.3" fill="#90264c" />
<line x1="123.6" y1="1523.1" x2="128" y2="1523.1" stroke="#4d4d4d" stroke-width="1.8" />
<text font-size="21.3" x="0" y="0" transform="translate(120.9 1530.8) scale(1 1.045)" text-anchor="end" fill="#4d4d4d">LE</text>
<rect x="157.06" y="1545.65" width="7.54" height="37.3" fill="#3f85b2" />
<rect x="164.3" y="1545.65" width="6" height="37.3" fill="#9fd3a2" />
<rect x="170" y="1545.65" width="10" height="37.3" fill="#d9e69b" />
<rect x="179.7" y="1545.65" width="9.3" height="37.3" fill="#f5f3bc" />
<rect x="188.7" y="1545.65" width="60.7" height="37.3" fill="#f6d28e" />
<rect x="249.1" y="1545.65" width="22.5" height="37.3" fill="#f5a56b" />
<rect x="271.3" y="1545.65" width="240.1" height="37.3" fill="#ea7151" />
<rect x="511.1" y="1545.65" width="146" height="37.3" fill="#cb4759" />
<rect x="656.8" y="1545.65" width="84.2" height="37.3" fill="#90264c" />
<line x1="123.6" y1="1564.3" x2="128" y2="1564.3" stroke="#4d4d4d" stroke-width="1.8" />
<text font-size="21.3" x="0" y="0" transform="translate(120.9 1572) scale(1 1.045)" text-anchor="end" fill="#4d4d4d">IHD</text>
<rect x="157.06" y="1586.85" width="12.34" height="37.3" fill="#5e569b" />
<rect x="169.1" y="1586.85" width="3.3" height="37.3" fill="#3f85b2" />
<rect x="172.1" y="1586.85" width="20.7" height="37.3" fill="#9fd3a2" />
<rect x="192.5" y="1586.85" width="15.3" height="37.3" fill="#d9e69b" />
<rect x="207.5" y="1586.85" width="1.4" height="37.3" fill="#f5f3bc" />
<rect x="208.6" y="1586.85" width="85.5" height="37.3" fill="#f6d28e" />
<rect x="293.8" y="1586.85" width="27.4" height="37.3" fill="#f5a56b" />
<rect x="320.9" y="1586.85" width="165.4" height="37.3" fill="#ea7151" />
<rect x="486" y="1586.85" width="125.6" height="37.3" fill="#8f2449" />
<rect x="611.3" y="1586.85" width="129.7" height="37.3" fill="#91284d" />
<line x1="123.6" y1="1605.5" x2="128" y2="1605.5" stroke="#4d4d4d" stroke-width="1.8" />
<text font-size="21.3" x="120.9" y="1613.2" text-anchor="end" fill="#4d4d4d">HeartFailure</text>
<rect x="157.06" y="1628.05" width="7.04" height="37.3" fill="#5e569b" />
<rect x="163.8" y="1628.05" width="2" height="37.3" fill="#3f85b2" />
<rect x="165.5" y="1628.05" width="16.8" height="37.3" fill="#9fd3a2" />
<rect x="182" y="1628.05" width="25.4" height="37.3" fill="#f5f3bc" />
<rect x="207.1" y="1628.05" width="241.2" height="37.3" fill="#f6d28e" />
<rect x="448" y="1628.05" width="16.9" height="37.3" fill="#f5a56b" />
<rect x="464.6" y="1628.05" width="51.5" height="37.3" fill="#ea7151" />
<rect x="515.8" y="1628.05" width="142.5" height="37.3" fill="#cb4759" />
<rect x="658" y="1628.05" width="83" height="37.3" fill="#90264c" />
<line x1="123.6" y1="1646.7" x2="128" y2="1646.7" stroke="#4d4d4d" stroke-width="1.8" />
<text font-size="21.3" x="0" y="0" transform="translate(120.9 1654.4) scale(1 1.045)" text-anchor="end" fill="#4d4d4d">COPD</text>
<rect x="157.06" y="1669.25" width="8.54" height="37.3" fill="#5e569b" />
<rect x="165.3" y="1669.25" width="4.5" height="37.3" fill="#3f85b2" />
<rect x="169.5" y="1669.25" width="14.3" height="37.3" fill="#62b9a3" />
<rect x="183.5" y="1669.25" width="11.8" height="37.3" fill="#9fd3a2" />
<rect x="195" y="1669.25" width="6.1" height="37.3" fill="#d9e69b" />
<rect x="200.8" y="1669.25" width="17.4" height="37.3" fill="#f5f3bc" />
<rect x="217.9" y="1669.25" width="45.3" height="37.3" fill="#f6d28e" />
<rect x="262.9" y="1669.25" width="16.5" height="37.3" fill="#f5a56b" />
<rect x="279.1" y="1669.25" width="250" height="37.3" fill="#ea7151" />
<rect x="528.8" y="1669.25" width="133.5" height="37.3" fill="#cb4759" />
<rect x="662" y="1669.25" width="79" height="37.3" fill="#90264c" />
<line x1="123.6" y1="1687.9" x2="128" y2="1687.9" stroke="#4d4d4d" stroke-width="1.8" />
<text font-size="21.3" x="0" y="0" transform="translate(120.9 1695.6) scale(1 1.045)" text-anchor="end" fill="#4d4d4d">CKD</text>
<rect x="157.06" y="1710.45" width="1.04" height="37.3" fill="#62b9a3" />
<rect x="157.8" y="1710.45" width="6.5" height="37.3" fill="#9fd3a2" />
<rect x="164" y="1710.45" width="12.3" height="37.3" fill="#d9e69b" />
<rect x="176" y="1710.45" width="9.3" height="37.3" fill="#f5f3bc" />
<rect x="185" y="1710.45" width="66.4" height="37.3" fill="#f6d28e" />
<rect x="251.1" y="1710.45" width="31.3" height="37.3" fill="#f5a56b" />
<rect x="282.1" y="1710.45" width="220" height="37.3" fill="#ea7151" />
<rect x="501.8" y="1710.45" width="133.2" height="37.3" fill="#cb4759" />
<rect x="634.7" y="1710.45" width="106.3" height="37.3" fill="#90264c" />
<line x1="123.6" y1="1729.1" x2="128" y2="1729.1" stroke="#4d4d4d" stroke-width="1.8" />
<text font-size="21.3" x="120.9" y="1736.8" text-anchor="end" fill="#4d4d4d">Arrhythmias</text>
<rect x="157.06" y="1751.65" width="11.54" height="37.3" fill="#5e569b" />
<rect x="168.3" y="1751.65" width="9.8" height="37.3" fill="#3f85b2" />
<rect x="177.8" y="1751.65" width="2.2" height="37.3" fill="#62b9a3" />
<rect x="179.7" y="1751.65" width="32.6" height="37.3" fill="#9fd3a2" />
<rect x="212" y="1751.65" width="5.1" height="37.3" fill="#d9e69b" />
<rect x="216.8" y="1751.65" width="42.7" height="37.3" fill="#f5f3bc" />
<rect x="259.2" y="1751.65" width="49.1" height="37.3" fill="#f6d28e" />
<rect x="308" y="1751.65" width="17.2" height="37.3" fill="#f5a56b" />
<rect x="324.9" y="1751.65" width="37.4" height="37.3" fill="#ea7151" />
<rect x="362" y="1751.65" width="258.3" height="37.3" fill="#cb4759" />
<rect x="620" y="1751.65" width="121" height="37.3" fill="#90264c" />
<line x1="123.6" y1="1770.3" x2="128" y2="1770.3" stroke="#4d4d4d" stroke-width="1.8" />
<text font-size="21.3" x="120.9" y="1778" text-anchor="end" fill="#4d4d4d">Anemia</text>
<polyline points="128,1292.7 128,1793.6 769.8,1793.6" fill="none" stroke="#000" stroke-width="1.8"/>
<line x1="157.06" y1="1793.6" x2="157.06" y2="1798" stroke="#4d4d4d" stroke-width="1.8" />
<text font-size="21.3" x="0" y="0" transform="translate(157.06 1815.7) scale(1 1.045)" text-anchor="middle" fill="#4d4d4d">0.00</text>
<line x1="303.05" y1="1793.6" x2="303.05" y2="1798" stroke="#4d4d4d" stroke-width="1.8" />
<text font-size="21.3" x="0" y="0" transform="translate(303.05 1815.7) scale(1 1.045)" text-anchor="middle" fill="#4d4d4d">0.25</text>
<line x1="449.03" y1="1793.6" x2="449.03" y2="1798" stroke="#4d4d4d" stroke-width="1.8" />
<text font-size="21.3" x="0" y="0" transform="translate(449.03 1815.7) scale(1 1.045)" text-anchor="middle" fill="#4d4d4d">0.50</text>
<line x1="595.02" y1="1793.6" x2="595.02" y2="1798" stroke="#4d4d4d" stroke-width="1.8" />
<text font-size="21.3" x="0" y="0" transform="translate(595.02 1815.7) scale(1 1.045)" text-anchor="middle" fill="#4d4d4d">0.75</text>
<line x1="741" y1="1793.6" x2="741" y2="1798" stroke="#4d4d4d" stroke-width="1.8" />
<text font-size="21.3" x="0" y="0" transform="translate(741 1815.7) scale(1 1.045)" text-anchor="middle" fill="#4d4d4d">1.00</text>
<text font-size="21.4" x="449" y="1839" text-anchor="middle" font-weight="bold">Contribution in LASSO Prediction model</text>
<text font-size="32" x="0" y="0" transform="translate(3.7 1294) scale(1 1.045)" font-weight="bold">E</text>
<text font-size="21.3" x="792" y="1420.9">Variables</text>
<rect x="793" y="1431.3" width="21.7" height="21.6" fill="#90264c" />
<text font-size="21.3" x="0" y="0" transform="translate(822.4 1449.5) scale(1 1.045)">APPRS</text>
<rect x="793" y="1454.32" width="21.7" height="21.6" fill="#cb4759" />
<text font-size="21.3" x="822.4" y="1472.52">ApoB/ApoA</text>
<rect x="793" y="1477.34" width="21.7" height="21.6" fill="#ea7151" />
<text font-size="21.3" x="822.4" y="1495.54">Sex</text>
<rect x="793" y="1500.36" width="21.7" height="21.6" fill="#f5a56b" />
<text font-size="21.3" x="822.4" y="1518.56">Age</text>
<rect x="793" y="1523.38" width="21.7" height="21.6" fill="#f6d28e" />
<text font-size="21.3" x="822.4" y="1541.58">Smoking</text>
<rect x="793" y="1546.4" width="21.7" height="21.6" fill="#f5f3bc" />
<text font-size="21.3" x="822.4" y="1564.6">Alcohol</text>
<rect x="793" y="1569.42" width="21.7" height="21.6" fill="#d9e69b" />
<text font-size="21.3" x="0" y="0" transform="translate(822.4 1587.62) scale(1 1.045)">BMI</text>
<rect x="793" y="1592.44" width="21.7" height="21.6" fill="#9fd3a2" />
<text font-size="21.3" x="822.4" y="1610.64">Albumin</text>
<rect x="793" y="1615.46" width="21.7" height="21.6" fill="#62b9a3" />
<text font-size="21.3" x="822.4" y="1633.66">Creatinine</text>
<rect x="793" y="1638.48" width="21.7" height="21.6" fill="#3f85b2" />
<text font-size="21.3" x="822.4" y="1656.68">HbA1c</text>
<rect x="793" y="1661.5" width="21.7" height="21.6" fill="#5e569b" />
<text font-size="21.3" x="822.4" y="1679.7">Glucose</text>
<rect x="1069.5" y="1508.2" width="56.2" height="271.4" fill="#65a07a" />
<rect x="1125.6" y="1453.7" width="56.2" height="325.9" fill="#5c76a0" />
<rect x="1293.4" y="1508.8" width="56.2" height="270.8" fill="#65a07a" />
<rect x="1349.5" y="1491.5" width="56.2" height="288.1" fill="#5c76a0" />
<polyline points="991.7,1350.6 991.7,1800 1483.3,1800" fill="none" stroke="#000" stroke-width="1.8"/>
<line x1="987.3" y1="1779.6" x2="991.7" y2="1779.6" stroke="#4d4d4d" stroke-width="1.8" />
<text font-size="21.3" x="0" y="0" transform="translate(984.6 1787.2) scale(1 1.045)" text-anchor="end" fill="#4d4d4d">0.5</text>
<line x1="987.3" y1="1575.1" x2="991.7" y2="1575.1" stroke="#4d4d4d" stroke-width="1.8" />
<text font-size="21.3" x="0" y="0" transform="translate(984.6 1582.7) scale(1 1.045)" text-anchor="end" fill="#4d4d4d">0.6</text>
<line x1="987.3" y1="1370.5" x2="991.7" y2="1370.5" stroke="#4d4d4d" stroke-width="1.8" />
<text font-size="21.3" x="0" y="0" transform="translate(984.6 1378.1) scale(1 1.045)" text-anchor="end" fill="#4d4d4d">0.7</text>
<line x1="1125.6" y1="1800" x2="1125.6" y2="1804.4" stroke="#4d4d4d" stroke-width="1.8" />
<text font-size="21.3" x="1125.6" y="1822.1" text-anchor="middle" fill="#4d4d4d">Arrhythmias</text>
<line x1="1349.5" y1="1800" x2="1349.5" y2="1804.4" stroke="#4d4d4d" stroke-width="1.8" />
<text font-size="21.3" x="0" y="0" transform="translate(1349.5 1822.1) scale(1 1.045)" text-anchor="middle" fill="#4d4d4d">PAD</text>
<text font-size="21.3" x="1064.6" y="1325">Models</text>
<rect x="1142.1" y="1306.2" width="21.7" height="21.5" fill="#65a07a" />
<text font-size="21.3" x="1171.8" y="1325">Basic</text>
<rect x="1231.7" y="1306.2" width="21.6" height="21.5" fill="#5c76a0" />
<text font-size="21.3" x="1260.9" y="1325">Basic + APPRS</text>
<text font-size="32" x="0" y="0" transform="translate(937.7 1293.7) scale(1 1.045)" font-weight="bold">F</text>
<rect x="1643" y="1326.9" width="68.9" height="376.7" fill="#ac5f68" />
<rect x="1643" y="1703.6" width="68.9" height="30.8" fill="#f6d28e" />
<rect x="1643" y="1734.4" width="68.9" height="46.3" fill="#3f85b2" />
<rect x="1757.9" y="1326.9" width="68.9" height="308.7" fill="#ac5f68" />
<rect x="1757.9" y="1635.6" width="68.9" height="48.6" fill="#f6d28e" />
<rect x="1757.9" y="1684.2" width="68.9" height="96.5" fill="#3f85b2" />
<polyline points="1609.3,1304.3 1609.3,1803.1 1861.5,1803.1" fill="none" stroke="#000" stroke-width="1.8"/>
<line x1="1604.9" y1="1780.7" x2="1609.3" y2="1780.7" stroke="#4d4d4d" stroke-width="1.8" />
<text font-size="21.3" x="0" y="0" transform="translate(1602.2 1788.3) scale(1 1.045)" text-anchor="end" fill="#4d4d4d">0.00</text>
<line x1="1604.9" y1="1667.25" x2="1609.3" y2="1667.25" stroke="#4d4d4d" stroke-width="1.8" />
<text font-size="21.3" x="0" y="0" transform="translate(1602.2 1674.85) scale(1 1.045)" text-anchor="end" fill="#4d4d4d">0.25</text>
<line x1="1604.9" y1="1553.8" x2="1609.3" y2="1553.8" stroke="#4d4d4d" stroke-width="1.8" />
<text font-size="21.3" x="0" y="0" transform="translate(1602.2 1561.4) scale(1 1.045)" text-anchor="end" fill="#4d4d4d">0.50</text>
<line x1="1604.9" y1="1440.35" x2="1609.3" y2="1440.35" stroke="#4d4d4d" stroke-width="1.8" />
<text font-size="21.3" x="0" y="0" transform="translate(1602.2 1447.95) scale(1 1.045)" text-anchor="end" fill="#4d4d4d">0.75</text>
<line x1="1604.9" y1="1326.9" x2="1609.3" y2="1326.9" stroke="#4d4d4d" stroke-width="1.8" />
<text font-size="21.3" x="0" y="0" transform="translate(1602.2 1334.5) scale(1 1.045)" text-anchor="end" fill="#4d4d4d">1.00</text>
<line x1="1677.5" y1="1803.1" x2="1677.5" y2="1807.5" stroke="#4d4d4d" stroke-width="1.8" />
<text font-size="21.3" x="1677.5" y="1825.2" text-anchor="middle" fill="#4d4d4d">Arrhythmias</text>
<line x1="1792.4" y1="1803.1" x2="1792.4" y2="1807.5" stroke="#4d4d4d" stroke-width="1.8" />
<text font-size="21.3" x="0" y="0" transform="translate(1792.4 1825.2) scale(1 1.045)" text-anchor="middle" fill="#4d4d4d">PAD</text>
<text font-size="21.3" x="1552.2" y="1555" transform="rotate(-90 1552.2 1555)" text-anchor="middle" font-weight="bold">Contribution in LASSO Prediction model</text>
<text font-size="32" x="0" y="0" transform="translate(1481.3 1293.2) scale(1 1.045)" font-weight="bold">G</text>
<text font-size="21.3" x="1883.2" y="1499.4">Disease</text>
<rect x="1884.3" y="1510.9" width="21.5" height="21.5" fill="#ac5f68" />
<text font-size="21.3" x="0" y="0" transform="translate(1914.2 1529.05) scale(1 1.045)">APPRS</text>
<rect x="1884.3" y="1533.95" width="21.5" height="21.5" fill="#f6d28e" />
<text font-size="21.3" x="1914.2" y="1552.1">Age</text>
<rect x="1884.3" y="1557" width="21.5" height="21.5" fill="#9fd3a2" />
<text font-size="21.3" x="1914.2" y="1575.15">Sex</text>
<rect x="1884.3" y="1580.05" width="21.5" height="21.5" fill="#62b9a3" />
<text font-size="21.3" x="1914.2" y="1598.2">Race</text>
<rect x="1884.3" y="1603.1" width="21.5" height="21.5" fill="#3f85b2" />
<text font-size="21.3" x="0" y="0" transform="translate(1914.2 1621.25) scale(1 1.045)">BMI</text>
<text font-size="32" x="0" y="0" transform="translate(5 23) scale(1 1.045)" font-weight="bold">A</text>
</svg>
</body></html>
